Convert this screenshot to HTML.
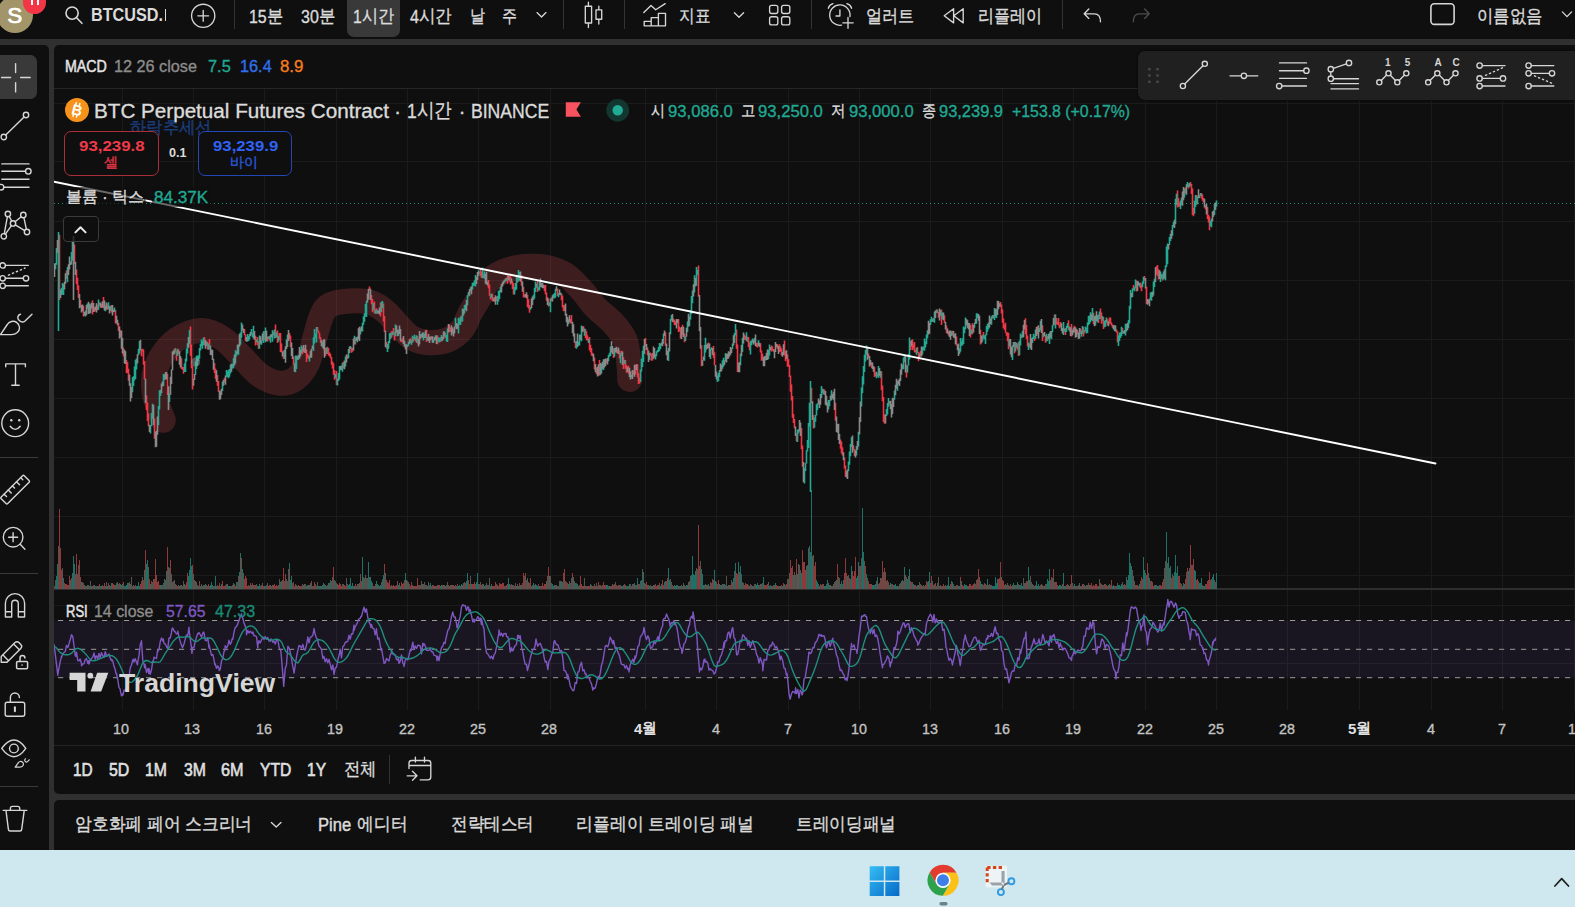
<!DOCTYPE html>
<html lang="ko"><head><meta charset="utf-8"><title>BTCUSD.P chart</title>
<style>
*{box-sizing:border-box}
html,body{margin:0;padding:0;width:1575px;height:907px;overflow:hidden}
body{width:1575px;height:907px;overflow:hidden;position:relative;background:#303030;font-family:"Liberation Sans",sans-serif;color:#dbdbdb}
.app{position:absolute;left:0;top:0;width:1575px;height:907px;overflow:hidden;background:#303030}
.p{position:absolute;background:#0f0f0f}
.t{position:absolute;white-space:nowrap;line-height:1;transform-origin:0 50%;z-index:2;-webkit-text-stroke:.35px}
.b{-webkit-text-stroke:0}
.i{position:absolute;overflow:visible;z-index:2}
.chart{position:absolute;left:54px;top:45px;z-index:1}
.sep{position:absolute;background:#333;z-index:2}
</style></head>
<body>
<div class="app">
<div class="p" style="left:0;top:0;width:1575px;height:38.8px"></div><div class="p" style="left:0;top:45px;width:48.5px;height:805px;border-top-right-radius:5px"></div><div class="p" style="left:54px;top:45px;width:1521px;height:749px;border-radius:5px 0 0 5px"></div><div class="p" style="left:54px;top:800px;width:1521px;height:50px;border-top-left-radius:5px"></div><div style="position:absolute;left:0;top:849.5px;width:1575px;height:57.5px;background:#cfe7ee"></div><div class="sep" style="left:54px;top:744.5px;width:1521px;height:1px;background:#242424"></div><div style="position:absolute;left:346.5px;top:-6px;width:53.5px;height:42.5px;border-radius:7px;background:#393939;z-index:1"></div><div class="sep" style="left:234.0px;top:0;width:1px;height:28.5px"></div><div class="sep" style="left:562.5px;top:0;width:1px;height:28.5px"></div><div class="sep" style="left:623.5px;top:0;width:1px;height:28.5px"></div><div class="sep" style="left:811.0px;top:0;width:1px;height:28.5px"></div><div class="sep" style="left:1062.0px;top:0;width:1px;height:28.5px"></div><div class="sep" style="left:165px;top:8.5px;width:1.3px;height:12.5px;background:#dbdbdb"></div><div style="position:absolute;left:-6px;top:55.2px;width:43px;height:43.5px;border-radius:6.5px;background:#393939;z-index:1"></div><div class="sep" style="left:0;top:456.5px;width:37.5px;height:1px;background:#3a3a3a"></div><div class="sep" style="left:0;top:572.8px;width:37.5px;height:1px;background:#3a3a3a"></div><div class="sep" style="left:0;top:786.2px;width:37.5px;height:1px;background:#3a3a3a"></div><div class="sep" style="left:389.3px;top:755px;width:1px;height:28.5px"></div><div style="position:absolute;left:1138px;top:51px;width:437px;height:49px;border-radius:7px 0 0 7px;background:#202020;z-index:2;box-shadow:0 0 3px rgba(0,0,0,.6)"></div><div style="position:absolute;left:63.6px;top:131px;width:95.2px;height:44.7px;border:1.2px solid #ab2f3a;border-radius:7px;background:#0f0f0f;z-index:2"></div><div style="position:absolute;left:197.9px;top:131px;width:94.2px;height:44.7px;border:1.2px solid #2348b4;border-radius:7px;background:#0f0f0f;z-index:2"></div><div style="position:absolute;left:62.6px;top:216px;width:36.2px;height:26.4px;border:1px solid #3a3a3a;border-radius:4px;background:rgba(15,15,15,.75);z-index:2"></div><div style="position:absolute;left:-3.5px;top:-4px;width:36.5px;height:36.5px;border-radius:50%;background:#a3956a;z-index:1"></div><div style="position:absolute;left:22.9px;top:-9.6px;width:23.6px;height:23.6px;border-radius:50%;background:#f23645;z-index:3"></div><div style="position:absolute;left:31.2px;top:-3px;width:1.8px;height:8.3px;background:#fff;z-index:4"></div><div style="position:absolute;left:37.4px;top:-3px;width:1.8px;height:8.3px;background:#fff;z-index:4"></div>
<svg class="chart" width="1521" height="665" viewBox="54 45 1521 665"><path d="M122.5 89V588M122.5 590V710M193.5 89V588M193.5 590V710M264.5 89V588M264.5 590V710M336.5 89V588M336.5 590V710M407.5 89V588M407.5 590V710M478.5 89V588M478.5 590V710M550.5 89V588M550.5 590V710M645.5 89V588M645.5 590V710M716.5 89V588M716.5 590V710M788.5 89V588M788.5 590V710M859.5 89V588M859.5 590V710M930.5 89V588M930.5 590V710M1002.5 89V588M1002.5 590V710M1073.5 89V588M1073.5 590V710M1145.5 89V588M1145.5 590V710M1216.5 89V588M1216.5 590V710M1287.5 89V588M1287.5 590V710M1359.5 89V588M1359.5 590V710M1431.5 89V588M1431.5 590V710M1502.5 89V588M1502.5 590V710M1574.5 89V588M1574.5 590V710M54 103.5H1575M54 161.5H1575M54 221.5H1575M54 280.5H1575M54 339.5H1575M54 398.5H1575M54 457.5H1575M54 516.5H1575M54 575.5H1575M54 605.5H1575M54 663.5H1575" stroke="#1b1b1b" stroke-width="1" fill="none" shape-rendering="crispEdges"/><rect x="54" y="88" width="1521" height="1" fill="#262626"/><rect x="54" y="588" width="1521" height="2" fill="#2e2e2e"/><rect x="54" y="620.5" width="1521" height="57.2" fill="#7e57c2" fill-opacity="0.1"/><path d="M163.3 420.3C161.8 415.7 155.3 401.6 154.1 392.9C152.9 384.2 153.2 376.1 155.9 368.2C158.6 360.3 164.4 351.2 170.0 345.3C175.6 339.4 183.2 335.2 189.4 332.9C195.6 330.5 201.1 330.0 207.0 331.2C212.9 332.4 218.8 335.6 224.7 340.0C230.6 344.4 236.4 351.7 242.3 357.6C248.2 363.5 253.8 371.0 260.0 375.3C266.2 379.6 273.5 382.6 279.4 383.2C285.3 383.8 290.6 382.2 295.3 378.8C300.0 375.4 304.4 369.7 307.6 362.9C310.8 356.1 312.4 346.1 314.7 338.2C317.0 330.3 319.1 320.8 321.7 315.3C324.2 309.8 325.3 307.4 330.0 305.0C334.7 302.6 343.2 301.4 349.8 301.0C356.4 300.6 363.7 300.5 369.7 302.3C375.7 304.1 380.8 307.7 385.6 311.6C390.5 315.6 394.4 321.6 398.8 326.0C403.2 330.4 406.9 335.2 412.0 338.0C417.1 340.8 423.0 342.5 429.2 342.7C435.4 342.9 443.5 341.7 449.0 339.4C454.5 337.1 458.8 333.2 462.3 328.8C465.8 324.4 467.6 317.8 470.2 313.0C472.8 308.2 474.8 305.4 478.0 300.0C481.2 294.6 484.0 285.8 489.4 280.6C494.8 275.4 502.4 271.4 510.6 269.0C518.8 266.6 530.0 265.8 538.8 266.5C547.6 267.2 556.5 269.7 563.5 273.5C570.5 277.3 575.7 283.8 581.0 289.4C586.3 295.0 590.0 301.4 595.3 307.0C600.6 312.6 607.9 317.3 612.9 322.9C617.9 328.5 622.6 333.8 625.3 340.6C627.9 347.4 628.1 357.0 628.8 363.5C629.5 370.0 629.6 376.8 629.7 379.4" stroke="#e8505a" stroke-opacity="0.22" stroke-width="25" fill="none" stroke-linecap="round" stroke-linejoin="round"/><path d="M54 203.5H1575" stroke="#1f9683" stroke-width="1" stroke-dasharray="1 3" fill="none" shape-rendering="crispEdges"/><g shape-rendering="crispEdges"><path d="M59.5 508.6V588.5M60.5 548.0V588.5M61.5 570.3V588.5M64.5 582.8V588.5M66.5 584.1V588.5M67.5 585.2V588.5M69.5 575.8V588.5M71.5 578.1V588.5M75.5 573.6V588.5M76.5 554.0V588.5M79.5 560.0V588.5M80.5 577.2V588.5M83.5 582.6V588.5M85.5 586.0V588.5M86.5 585.7V588.5M93.5 585.2V588.5M96.5 586.2V588.5M99.5 583.9V588.5M103.5 585.7V588.5M104.5 582.7V588.5M108.5 583.2V588.5M112.5 583.3V588.5M113.5 583.8V588.5M115.5 584.8V588.5M119.5 583.3V588.5M123.5 581.7V588.5M128.5 583.1V588.5M132.5 585.8V588.5M135.5 584.9V588.5M140.5 584.2V588.5M141.5 581.0V588.5M143.5 579.5V588.5M145.5 550.0V588.5M149.5 578.6V588.5M151.5 580.5V588.5M154.5 578.7V588.5M155.5 558.8V588.5M156.5 575.0V588.5M157.5 582.1V588.5M158.5 580.5V588.5M167.5 546.8V588.5M169.5 568.3V588.5M170.5 560.0V588.5M177.5 586.0V588.5M185.5 585.0V588.5M186.5 581.9V588.5M187.5 573.0V588.5M192.5 565.0V588.5M194.5 580.2V588.5M199.5 580.9V588.5M207.5 586.1V588.5M208.5 584.1V588.5M213.5 586.0V588.5M218.5 586.3V588.5M219.5 582.5V588.5M220.5 585.8V588.5M222.5 581.2V588.5M223.5 585.6V588.5M225.5 584.7V588.5M226.5 583.6V588.5M235.5 585.6V588.5M238.5 576.4V588.5M241.5 558.0V588.5M244.5 578.8V588.5M245.5 576.1V588.5M246.5 578.3V588.5M247.5 585.9V588.5M249.5 586.0V588.5M250.5 583.3V588.5M252.5 582.9V588.5M254.5 585.2V588.5M260.5 586.2V588.5M263.5 586.3V588.5M268.5 585.7V588.5M269.5 585.0V588.5M271.5 586.3V588.5M272.5 585.1V588.5M274.5 584.4V588.5M275.5 585.6V588.5M276.5 584.7V588.5M283.5 568.0V588.5M285.5 574.2V588.5M288.5 568.8V588.5M293.5 582.0V588.5M295.5 583.6V588.5M298.5 584.6V588.5M300.5 585.5V588.5M302.5 583.9V588.5M305.5 583.7V588.5M309.5 584.5V588.5M311.5 581.3V588.5M313.5 586.0V588.5M314.5 582.3V588.5M333.5 566.8V588.5M336.5 582.5V588.5M338.5 585.3V588.5M339.5 583.0V588.5M340.5 583.5V588.5M341.5 585.9V588.5M344.5 584.9V588.5M345.5 585.8V588.5M355.5 583.5V588.5M357.5 584.1V588.5M358.5 584.3V588.5M361.5 580.9V588.5M374.5 585.7V588.5M384.5 564.0V588.5M386.5 580.4V588.5M388.5 583.2V588.5M389.5 579.6V588.5M391.5 585.3V588.5M393.5 584.8V588.5M394.5 586.3V588.5M395.5 586.1V588.5M397.5 580.9V588.5M401.5 582.4V588.5M402.5 583.5V588.5M403.5 582.6V588.5M404.5 579.8V588.5M407.5 580.7V588.5M410.5 585.7V588.5M411.5 582.4V588.5M412.5 585.4V588.5M414.5 585.6V588.5M415.5 585.7V588.5M417.5 577.9V588.5M418.5 585.4V588.5M423.5 584.1V588.5M427.5 585.5V588.5M433.5 584.8V588.5M435.5 585.8V588.5M437.5 585.1V588.5M438.5 584.7V588.5M439.5 585.0V588.5M442.5 585.3V588.5M445.5 586.2V588.5M448.5 585.3V588.5M451.5 585.4V588.5M453.5 585.4V588.5M454.5 586.1V588.5M457.5 584.3V588.5M460.5 586.0V588.5M462.5 585.2V588.5M465.5 583.1V588.5M468.5 580.0V588.5M469.5 583.7V588.5M472.5 584.2V588.5M473.5 583.7V588.5M474.5 581.6V588.5M479.5 583.6V588.5M481.5 585.0V588.5M483.5 583.8V588.5M492.5 586.0V588.5M493.5 585.9V588.5M495.5 581.8V588.5M497.5 585.4V588.5M499.5 583.4V588.5M500.5 584.3V588.5M501.5 584.2V588.5M502.5 582.6V588.5M503.5 583.1V588.5M507.5 584.0V588.5M510.5 585.2V588.5M512.5 585.0V588.5M514.5 585.6V588.5M519.5 582.8V588.5M521.5 584.5V588.5M523.5 572.8V588.5M525.5 573.0V588.5M526.5 580.1V588.5M529.5 582.9V588.5M530.5 577.6V588.5M534.5 585.4V588.5M538.5 584.3V588.5M542.5 583.3V588.5M543.5 586.2V588.5M544.5 584.3V588.5M545.5 584.4V588.5M547.5 575.7V588.5M548.5 567.4V588.5M555.5 584.6V588.5M557.5 586.1V588.5M563.5 573.0V588.5M564.5 569.4V588.5M567.5 582.8V588.5M572.5 573.0V588.5M580.5 576.3V588.5M581.5 583.7V588.5M582.5 586.1V588.5M585.5 585.7V588.5M586.5 586.0V588.5M588.5 585.9V588.5M589.5 586.2V588.5M591.5 585.2V588.5M593.5 586.2V588.5M595.5 585.6V588.5M598.5 581.6V588.5M603.5 581.8V588.5M604.5 585.3V588.5M605.5 584.9V588.5M610.5 585.6V588.5M613.5 585.2V588.5M614.5 584.3V588.5M617.5 586.2V588.5M618.5 585.0V588.5M625.5 585.3V588.5M635.5 585.2V588.5M639.5 584.0V588.5M646.5 581.5V588.5M647.5 585.4V588.5M650.5 585.4V588.5M652.5 586.3V588.5M654.5 585.0V588.5M656.5 586.2V588.5M657.5 584.5V588.5M659.5 582.7V588.5M662.5 580.3V588.5M663.5 585.3V588.5M667.5 578.4V588.5M673.5 586.3V588.5M679.5 586.0V588.5M685.5 586.2V588.5M689.5 581.2V588.5M698.5 525.0V588.5M699.5 566.0V588.5M704.5 584.6V588.5M707.5 585.2V588.5M710.5 581.9V588.5M712.5 579.4V588.5M716.5 582.4V588.5M718.5 579.6V588.5M728.5 584.5V588.5M730.5 585.4V588.5M732.5 582.3V588.5M736.5 573.3V588.5M737.5 574.2V588.5M744.5 585.0V588.5M746.5 584.4V588.5M747.5 583.7V588.5M753.5 585.6V588.5M761.5 584.0V588.5M764.5 585.1V588.5M765.5 584.6V588.5M767.5 584.0V588.5M772.5 586.0V588.5M776.5 584.9V588.5M777.5 585.9V588.5M779.5 585.5V588.5M781.5 585.4V588.5M783.5 582.5V588.5M786.5 583.9V588.5M790.5 560.0V588.5M791.5 568.3V588.5M792.5 566.0V588.5M796.5 558.8V588.5M799.5 564.9V588.5M802.5 550.0V588.5M803.5 562.0V588.5M804.5 562.0V588.5M805.5 570.4V588.5M813.5 555.1V588.5M814.5 566.0V588.5M815.5 562.0V588.5M821.5 585.3V588.5M822.5 584.3V588.5M831.5 585.5V588.5M837.5 564.0V588.5M844.5 573.1V588.5M845.5 558.0V588.5M846.5 573.4V588.5M849.5 578.1V588.5M852.5 570.5V588.5M853.5 576.3V588.5M854.5 571.2V588.5M855.5 557.0V588.5M859.5 566.0V588.5M865.5 566.0V588.5M868.5 580.9V588.5M870.5 583.5V588.5M871.5 583.5V588.5M879.5 583.4V588.5M880.5 578.4V588.5M882.5 561.0V588.5M884.5 568.0V588.5M887.5 580.3V588.5M892.5 584.3V588.5M900.5 583.3V588.5M903.5 580.5V588.5M905.5 575.1V588.5M911.5 582.3V588.5M914.5 584.8V588.5M921.5 585.0V588.5M924.5 586.3V588.5M927.5 582.3V588.5M930.5 582.7V588.5M931.5 576.3V588.5M934.5 583.9V588.5M943.5 583.9V588.5M944.5 585.5V588.5M950.5 584.2V588.5M954.5 586.1V588.5M957.5 585.3V588.5M960.5 576.7V588.5M962.5 584.8V588.5M963.5 586.3V588.5M969.5 583.9V588.5M970.5 583.9V588.5M972.5 585.3V588.5M973.5 584.3V588.5M977.5 579.0V588.5M978.5 568.9V588.5M984.5 583.4V588.5M986.5 584.8V588.5M991.5 585.1V588.5M998.5 579.0V588.5M999.5 577.5V588.5M1000.5 561.7V588.5M1002.5 580.3V588.5M1003.5 581.2V588.5M1005.5 584.1V588.5M1009.5 586.2V588.5M1011.5 585.5V588.5M1015.5 584.7V588.5M1024.5 583.2V588.5M1026.5 580.5V588.5M1040.5 585.4V588.5M1043.5 585.5V588.5M1045.5 584.4V588.5M1051.5 577.2V588.5M1053.5 569.0V588.5M1055.5 582.0V588.5M1056.5 582.3V588.5M1062.5 584.4V588.5M1067.5 584.4V588.5M1069.5 586.0V588.5M1071.5 575.0V588.5M1075.5 585.6V588.5M1078.5 585.4V588.5M1080.5 586.2V588.5M1082.5 583.5V588.5M1085.5 586.3V588.5M1086.5 585.2V588.5M1088.5 583.2V588.5M1091.5 582.8V588.5M1093.5 584.9V588.5M1094.5 585.9V588.5M1095.5 583.6V588.5M1096.5 584.1V588.5M1097.5 585.6V588.5M1100.5 583.3V588.5M1104.5 584.0V588.5M1107.5 585.7V588.5M1110.5 584.5V588.5M1111.5 580.3V588.5M1115.5 585.7V588.5M1124.5 583.7V588.5M1136.5 585.1V588.5M1137.5 585.0V588.5M1141.5 576.7V588.5M1142.5 578.6V588.5M1147.5 563.0V588.5M1151.5 581.2V588.5M1152.5 582.2V588.5M1153.5 586.2V588.5M1160.5 585.3V588.5M1161.5 585.7V588.5M1162.5 581.7V588.5M1171.5 577.6V588.5M1173.5 576.3V588.5M1178.5 575.9V588.5M1179.5 575.8V588.5M1180.5 582.7V588.5M1185.5 578.8V588.5M1187.5 568.0V588.5M1190.5 545.0V588.5M1192.5 564.5V588.5M1193.5 558.8V588.5M1196.5 580.2V588.5M1197.5 578.5V588.5M1202.5 584.7V588.5M1206.5 583.5V588.5M1207.5 581.3V588.5M1208.5 580.3V588.5M1209.5 571.7V588.5M1211.5 578.8V588.5" stroke="#8e3a3b" stroke-width="1.1" fill="none"/><path d="M56.5 575.7V588.5M57.5 563.8V588.5M63.5 577.9V588.5M70.5 579.6V588.5M72.5 573.0V588.5M73.5 556.0V588.5M74.5 564.1V588.5M81.5 581.9V588.5M84.5 585.4V588.5M87.5 584.7V588.5M91.5 586.0V588.5M94.5 584.7V588.5M97.5 586.1V588.5M98.5 585.9V588.5M101.5 585.5V588.5M107.5 586.1V588.5M111.5 583.2V588.5M114.5 584.8V588.5M116.5 583.1V588.5M120.5 584.3V588.5M122.5 584.3V588.5M125.5 586.3V588.5M126.5 584.6V588.5M127.5 583.3V588.5M129.5 582.4V588.5M133.5 584.6V588.5M136.5 585.7V588.5M137.5 586.0V588.5M138.5 581.9V588.5M139.5 585.5V588.5M144.5 569.6V588.5M146.5 563.5V588.5M147.5 560.0V588.5M150.5 583.7V588.5M160.5 584.9V588.5M164.5 579.4V588.5M166.5 570.8V588.5M168.5 567.0V588.5M171.5 573.9V588.5M184.5 584.2V588.5M188.5 575.7V588.5M189.5 569.5V588.5M190.5 558.0V588.5M191.5 566.2V588.5M193.5 574.0V588.5M195.5 581.4V588.5M198.5 586.0V588.5M205.5 583.6V588.5M210.5 585.1V588.5M211.5 581.6V588.5M212.5 585.3V588.5M215.5 576.1V588.5M221.5 584.4V588.5M227.5 583.9V588.5M228.5 586.2V588.5M229.5 585.7V588.5M236.5 581.5V588.5M239.5 572.0V588.5M240.5 552.5V588.5M242.5 569.0V588.5M251.5 585.2V588.5M258.5 585.6V588.5M259.5 584.2V588.5M264.5 586.2V588.5M270.5 585.0V588.5M281.5 581.0V588.5M289.5 563.0V588.5M290.5 579.9V588.5M291.5 575.8V588.5M303.5 584.9V588.5M304.5 583.5V588.5M307.5 584.9V588.5M308.5 585.4V588.5M310.5 582.8V588.5M316.5 585.5V588.5M319.5 585.5V588.5M320.5 586.2V588.5M323.5 582.9V588.5M325.5 585.4V588.5M328.5 582.8V588.5M330.5 579.7V588.5M334.5 579.7V588.5M337.5 583.9V588.5M348.5 584.8V588.5M349.5 583.7V588.5M350.5 578.3V588.5M351.5 586.0V588.5M352.5 582.9V588.5M354.5 585.6V588.5M356.5 585.6V588.5M359.5 583.4V588.5M362.5 557.4V588.5M368.5 562.0V588.5M370.5 577.1V588.5M371.5 581.1V588.5M376.5 580.9V588.5M378.5 585.3V588.5M380.5 584.9V588.5M383.5 575.0V588.5M385.5 573.1V588.5M390.5 585.5V588.5M399.5 582.7V588.5M400.5 585.7V588.5M405.5 573.0V588.5M406.5 580.3V588.5M413.5 586.2V588.5M422.5 584.4V588.5M426.5 585.2V588.5M430.5 583.1V588.5M436.5 585.7V588.5M440.5 586.1V588.5M441.5 585.2V588.5M444.5 584.8V588.5M450.5 585.3V588.5M456.5 585.8V588.5M458.5 585.9V588.5M459.5 585.2V588.5M461.5 583.9V588.5M463.5 582.6V588.5M466.5 581.1V588.5M467.5 573.0V588.5M471.5 583.5V588.5M476.5 582.3V588.5M477.5 573.0V588.5M478.5 584.2V588.5M482.5 584.4V588.5M484.5 585.8V588.5M491.5 584.2V588.5M508.5 578.1V588.5M509.5 583.6V588.5M513.5 584.7V588.5M516.5 585.6V588.5M518.5 585.9V588.5M520.5 585.1V588.5M527.5 578.0V588.5M531.5 585.5V588.5M533.5 583.1V588.5M535.5 584.4V588.5M536.5 585.3V588.5M537.5 586.1V588.5M539.5 586.1V588.5M546.5 580.6V588.5M549.5 576.3V588.5M552.5 583.9V588.5M553.5 585.8V588.5M554.5 585.3V588.5M556.5 585.3V588.5M560.5 581.2V588.5M562.5 581.9V588.5M568.5 583.8V588.5M573.5 576.9V588.5M575.5 583.4V588.5M577.5 584.4V588.5M587.5 585.7V588.5M590.5 583.7V588.5M606.5 584.6V588.5M607.5 584.6V588.5M609.5 586.2V588.5M623.5 585.1V588.5M627.5 585.5V588.5M629.5 583.9V588.5M634.5 582.9V588.5M637.5 578.3V588.5M641.5 579.8V588.5M643.5 571.7V588.5M648.5 585.3V588.5M651.5 585.7V588.5M653.5 585.1V588.5M658.5 584.8V588.5M660.5 586.3V588.5M665.5 580.8V588.5M668.5 568.0V588.5M669.5 579.7V588.5M674.5 585.4V588.5M675.5 585.5V588.5M676.5 585.2V588.5M678.5 586.0V588.5M680.5 586.1V588.5M684.5 584.6V588.5M687.5 585.3V588.5M688.5 581.8V588.5M691.5 575.3V588.5M692.5 556.0V588.5M693.5 573.5V588.5M694.5 575.3V588.5M695.5 570.6V588.5M701.5 569.4V588.5M702.5 573.7V588.5M703.5 584.7V588.5M705.5 584.2V588.5M706.5 584.7V588.5M708.5 584.0V588.5M714.5 570.0V588.5M715.5 580.7V588.5M719.5 583.8V588.5M721.5 584.8V588.5M724.5 583.5V588.5M729.5 584.7V588.5M733.5 578.4V588.5M735.5 563.0V588.5M738.5 561.7V588.5M740.5 566.0V588.5M752.5 585.6V588.5M756.5 584.6V588.5M757.5 582.8V588.5M760.5 584.1V588.5M763.5 576.6V588.5M769.5 585.7V588.5M771.5 585.9V588.5M775.5 583.3V588.5M778.5 586.3V588.5M780.5 586.1V588.5M782.5 586.0V588.5M793.5 574.9V588.5M797.5 574.3V588.5M798.5 564.0V588.5M801.5 572.5V588.5M806.5 566.0V588.5M808.5 548.2V588.5M810.5 552.0V588.5M811.5 490.0V588.5M812.5 556.0V588.5M816.5 579.5V588.5M817.5 582.0V588.5M824.5 585.6V588.5M825.5 585.5V588.5M827.5 579.9V588.5M829.5 585.3V588.5M830.5 584.7V588.5M836.5 580.1V588.5M840.5 583.5V588.5M843.5 580.0V588.5M847.5 575.8V588.5M851.5 566.0V588.5M856.5 577.6V588.5M857.5 576.4V588.5M858.5 562.0V588.5M862.5 507.8V588.5M863.5 552.0V588.5M866.5 573.5V588.5M872.5 585.2V588.5M873.5 585.1V588.5M875.5 583.6V588.5M877.5 577.4V588.5M890.5 582.5V588.5M894.5 584.7V588.5M895.5 583.6V588.5M897.5 586.0V588.5M901.5 580.9V588.5M902.5 580.2V588.5M904.5 566.8V588.5M907.5 579.2V588.5M909.5 569.0V588.5M913.5 584.1V588.5M918.5 584.7V588.5M928.5 580.8V588.5M929.5 571.7V588.5M947.5 584.9V588.5M948.5 577.4V588.5M949.5 585.6V588.5M952.5 581.6V588.5M955.5 586.3V588.5M959.5 586.0V588.5M961.5 581.4V588.5M964.5 584.4V588.5M965.5 584.8V588.5M967.5 585.9V588.5M980.5 581.3V588.5M987.5 579.2V588.5M990.5 584.7V588.5M992.5 585.7V588.5M993.5 585.9V588.5M994.5 585.6V588.5M995.5 577.0V588.5M996.5 582.7V588.5M997.5 579.2V588.5M1004.5 584.8V588.5M1013.5 582.6V588.5M1014.5 584.7V588.5M1017.5 582.0V588.5M1020.5 585.4V588.5M1021.5 582.8V588.5M1022.5 585.8V588.5M1025.5 583.0V588.5M1028.5 566.8V588.5M1036.5 581.0V588.5M1037.5 585.9V588.5M1038.5 583.8V588.5M1042.5 585.4V588.5M1044.5 585.9V588.5M1047.5 579.1V588.5M1048.5 580.6V588.5M1049.5 568.9V588.5M1052.5 578.2V588.5M1058.5 586.2V588.5M1059.5 584.6V588.5M1060.5 584.8V588.5M1063.5 573.4V588.5M1064.5 586.3V588.5M1068.5 584.8V588.5M1074.5 584.2V588.5M1079.5 582.8V588.5M1081.5 586.3V588.5M1084.5 584.6V588.5M1087.5 584.5V588.5M1089.5 585.1V588.5M1098.5 585.8V588.5M1109.5 584.2V588.5M1112.5 586.0V588.5M1113.5 585.1V588.5M1116.5 585.6V588.5M1118.5 584.5V588.5M1119.5 584.5V588.5M1120.5 585.8V588.5M1121.5 584.4V588.5M1123.5 584.8V588.5M1127.5 579.5V588.5M1128.5 574.5V588.5M1129.5 553.0V588.5M1130.5 563.0V588.5M1131.5 566.0V588.5M1139.5 583.9V588.5M1143.5 557.4V588.5M1144.5 570.4V588.5M1145.5 572.8V588.5M1149.5 578.1V588.5M1155.5 584.6V588.5M1157.5 585.9V588.5M1158.5 585.7V588.5M1166.5 532.0V588.5M1168.5 556.5V588.5M1170.5 566.0V588.5M1174.5 571.9V588.5M1175.5 554.5V588.5M1176.5 572.6V588.5M1177.5 566.0V588.5M1183.5 582.7V588.5M1184.5 583.7V588.5M1188.5 571.3V588.5M1194.5 569.7V588.5M1195.5 571.0V588.5M1199.5 583.1V588.5M1200.5 582.5V588.5M1201.5 577.8V588.5M1203.5 585.5V588.5M1204.5 585.9V588.5M1210.5 580.4V588.5M1212.5 576.9V588.5M1213.5 574.0V588.5M1216.5 573.0V588.5" stroke="#1f7066" stroke-width="1.1" fill="none"/><path d="M54.5 585.8V588.5M55.5 579.9V588.5M58.5 546.1V588.5M62.5 568.1V588.5M65.5 583.9V588.5M68.5 584.8V588.5M77.5 573.5V588.5M78.5 565.1V588.5M82.5 581.6V588.5M88.5 585.0V588.5M89.5 586.0V588.5M90.5 581.2V588.5M92.5 586.0V588.5M95.5 585.5V588.5M100.5 585.9V588.5M102.5 585.4V588.5M105.5 586.2V588.5M106.5 581.7V588.5M109.5 584.5V588.5M110.5 585.8V588.5M117.5 582.4V588.5M118.5 583.5V588.5M121.5 584.8V588.5M124.5 585.5V588.5M130.5 584.2V588.5M131.5 577.3V588.5M134.5 585.7V588.5M142.5 576.8V588.5M148.5 567.3V588.5M152.5 581.5V588.5M153.5 579.2V588.5M159.5 584.9V588.5M161.5 584.6V588.5M162.5 584.6V588.5M163.5 582.8V588.5M165.5 579.8V588.5M172.5 582.1V588.5M173.5 581.1V588.5M174.5 580.4V588.5M175.5 584.4V588.5M176.5 585.2V588.5M178.5 584.9V588.5M179.5 585.9V588.5M180.5 584.6V588.5M181.5 584.8V588.5M182.5 586.2V588.5M183.5 580.6V588.5M196.5 582.2V588.5M197.5 585.0V588.5M200.5 586.0V588.5M201.5 583.5V588.5M202.5 586.2V588.5M203.5 584.6V588.5M204.5 584.9V588.5M206.5 585.3V588.5M209.5 586.1V588.5M214.5 585.8V588.5M216.5 585.9V588.5M217.5 585.3V588.5M224.5 586.3V588.5M230.5 586.2V588.5M231.5 585.7V588.5M232.5 585.3V588.5M233.5 583.2V588.5M234.5 584.4V588.5M237.5 582.4V588.5M243.5 573.2V588.5M248.5 584.8V588.5M253.5 585.4V588.5M255.5 585.2V588.5M256.5 583.7V588.5M257.5 585.9V588.5M261.5 584.8V588.5M262.5 583.3V588.5M265.5 585.8V588.5M266.5 585.3V588.5M267.5 583.2V588.5M273.5 584.7V588.5M277.5 585.6V588.5M278.5 585.3V588.5M279.5 579.1V588.5M280.5 581.7V588.5M282.5 579.5V588.5M284.5 581.1V588.5M286.5 578.8V588.5M287.5 580.6V588.5M292.5 583.3V588.5M294.5 585.9V588.5M296.5 585.1V588.5M297.5 585.7V588.5M299.5 585.7V588.5M301.5 585.8V588.5M306.5 585.8V588.5M312.5 585.8V588.5M315.5 584.0V588.5M317.5 581.5V588.5M318.5 585.6V588.5M321.5 586.0V588.5M322.5 585.3V588.5M324.5 583.6V588.5M326.5 585.9V588.5M327.5 584.6V588.5M329.5 583.3V588.5M331.5 580.6V588.5M332.5 577.3V588.5M335.5 581.3V588.5M342.5 584.3V588.5M343.5 584.3V588.5M346.5 577.9V588.5M347.5 584.3V588.5M353.5 585.5V588.5M360.5 574.2V588.5M363.5 576.7V588.5M364.5 577.7V588.5M365.5 575.0V588.5M366.5 577.5V588.5M367.5 578.0V588.5M369.5 577.0V588.5M372.5 582.6V588.5M373.5 586.3V588.5M375.5 583.8V588.5M377.5 584.1V588.5M379.5 586.2V588.5M381.5 581.9V588.5M382.5 579.0V588.5M387.5 581.9V588.5M392.5 585.5V588.5M396.5 584.9V588.5M398.5 585.0V588.5M408.5 581.7V588.5M409.5 584.3V588.5M416.5 585.8V588.5M419.5 585.2V588.5M420.5 585.1V588.5M421.5 580.9V588.5M424.5 581.6V588.5M425.5 584.5V588.5M428.5 582.4V588.5M429.5 585.3V588.5M431.5 585.9V588.5M432.5 585.1V588.5M434.5 585.7V588.5M443.5 585.2V588.5M446.5 585.1V588.5M447.5 582.3V588.5M449.5 585.7V588.5M452.5 584.8V588.5M455.5 585.1V588.5M464.5 581.8V588.5M470.5 575.5V588.5M475.5 583.5V588.5M480.5 581.9V588.5M485.5 584.8V588.5M486.5 583.0V588.5M487.5 585.4V588.5M488.5 584.7V588.5M489.5 577.8V588.5M490.5 585.7V588.5M494.5 585.8V588.5M496.5 583.8V588.5M498.5 585.6V588.5M504.5 585.7V588.5M505.5 586.2V588.5M506.5 585.2V588.5M511.5 583.8V588.5M515.5 583.2V588.5M517.5 583.9V588.5M522.5 582.5V588.5M524.5 575.8V588.5M528.5 582.1V588.5M532.5 584.8V588.5M540.5 585.5V588.5M541.5 585.8V588.5M550.5 576.0V588.5M551.5 582.7V588.5M558.5 585.6V588.5M559.5 580.6V588.5M561.5 581.2V588.5M565.5 580.5V588.5M566.5 582.0V588.5M569.5 581.0V588.5M570.5 582.5V588.5M571.5 577.6V588.5M574.5 581.2V588.5M576.5 582.5V588.5M578.5 586.3V588.5M579.5 584.8V588.5M583.5 585.9V588.5M584.5 578.4V588.5M592.5 585.9V588.5M594.5 584.4V588.5M596.5 583.2V588.5M597.5 586.2V588.5M599.5 584.9V588.5M600.5 585.2V588.5M601.5 586.2V588.5M602.5 585.2V588.5M608.5 585.8V588.5M611.5 586.1V588.5M612.5 584.3V588.5M615.5 582.3V588.5M616.5 584.8V588.5M619.5 584.9V588.5M620.5 585.3V588.5M621.5 585.9V588.5M622.5 586.3V588.5M624.5 584.2V588.5M626.5 585.8V588.5M628.5 585.9V588.5M630.5 584.3V588.5M631.5 586.1V588.5M632.5 584.3V588.5M633.5 584.1V588.5M636.5 585.2V588.5M638.5 584.4V588.5M640.5 581.0V588.5M642.5 569.4V588.5M644.5 582.7V588.5M645.5 583.7V588.5M649.5 586.0V588.5M655.5 584.2V588.5M661.5 584.2V588.5M664.5 582.0V588.5M666.5 580.5V588.5M670.5 579.1V588.5M671.5 582.4V588.5M672.5 584.7V588.5M677.5 584.6V588.5M681.5 584.7V588.5M682.5 586.2V588.5M683.5 582.6V588.5M686.5 585.3V588.5M690.5 575.8V588.5M696.5 567.8V588.5M697.5 568.5V588.5M700.5 560.9V588.5M709.5 585.8V588.5M711.5 582.7V588.5M713.5 580.0V588.5M717.5 584.0V588.5M720.5 584.8V588.5M722.5 584.3V588.5M723.5 584.4V588.5M725.5 585.1V588.5M726.5 576.2V588.5M727.5 585.9V588.5M731.5 580.4V588.5M734.5 570.7V588.5M739.5 572.3V588.5M741.5 574.0V588.5M742.5 582.4V588.5M743.5 583.1V588.5M745.5 582.5V588.5M748.5 584.9V588.5M749.5 586.3V588.5M750.5 584.2V588.5M751.5 584.7V588.5M754.5 584.1V588.5M755.5 584.4V588.5M758.5 584.8V588.5M759.5 584.5V588.5M762.5 583.4V588.5M766.5 584.6V588.5M768.5 582.2V588.5M770.5 584.6V588.5M773.5 584.8V588.5M774.5 584.6V588.5M784.5 584.1V588.5M785.5 585.3V588.5M787.5 579.0V588.5M788.5 578.9V588.5M789.5 573.4V588.5M794.5 572.3V588.5M795.5 574.5V588.5M800.5 570.1V588.5M807.5 565.3V588.5M809.5 545.5V588.5M818.5 584.1V588.5M819.5 585.7V588.5M820.5 584.2V588.5M823.5 583.6V588.5M826.5 583.8V588.5M828.5 582.8V588.5M832.5 585.7V588.5M833.5 584.4V588.5M834.5 582.3V588.5M835.5 580.9V588.5M838.5 576.8V588.5M839.5 577.6V588.5M841.5 581.3V588.5M842.5 584.4V588.5M848.5 575.1V588.5M850.5 578.8V588.5M860.5 565.5V588.5M861.5 558.0V588.5M864.5 561.4V588.5M867.5 577.5V588.5M869.5 584.2V588.5M874.5 584.9V588.5M876.5 580.9V588.5M878.5 583.7V588.5M881.5 578.3V588.5M883.5 571.7V588.5M885.5 571.7V588.5M886.5 581.1V588.5M888.5 581.9V588.5M889.5 584.8V588.5M891.5 584.3V588.5M893.5 585.1V588.5M896.5 585.5V588.5M898.5 586.2V588.5M899.5 583.9V588.5M906.5 577.3V588.5M908.5 576.4V588.5M910.5 581.1V588.5M912.5 582.3V588.5M915.5 584.6V588.5M916.5 585.9V588.5M917.5 585.1V588.5M919.5 582.1V588.5M920.5 584.0V588.5M922.5 585.7V588.5M923.5 584.9V588.5M925.5 584.5V588.5M926.5 581.0V588.5M932.5 580.7V588.5M933.5 585.3V588.5M935.5 582.5V588.5M936.5 586.0V588.5M937.5 582.8V588.5M938.5 576.5V588.5M939.5 585.9V588.5M940.5 585.2V588.5M941.5 586.2V588.5M942.5 586.1V588.5M945.5 585.2V588.5M946.5 585.6V588.5M951.5 581.0V588.5M953.5 583.7V588.5M956.5 585.2V588.5M958.5 585.8V588.5M966.5 584.9V588.5M968.5 585.9V588.5M971.5 585.9V588.5M974.5 582.7V588.5M975.5 584.3V588.5M976.5 580.4V588.5M979.5 577.4V588.5M981.5 584.3V588.5M982.5 583.5V588.5M983.5 584.9V588.5M985.5 583.9V588.5M988.5 585.0V588.5M989.5 583.9V588.5M1001.5 577.0V588.5M1006.5 584.6V588.5M1007.5 582.6V588.5M1008.5 584.7V588.5M1010.5 584.1V588.5M1012.5 585.0V588.5M1016.5 584.9V588.5M1018.5 584.1V588.5M1019.5 584.9V588.5M1023.5 577.6V588.5M1027.5 581.1V588.5M1029.5 580.1V588.5M1030.5 575.8V588.5M1031.5 582.1V588.5M1032.5 584.2V588.5M1033.5 585.2V588.5M1034.5 585.9V588.5M1035.5 584.6V588.5M1039.5 585.9V588.5M1041.5 584.0V588.5M1046.5 584.1V588.5M1050.5 579.9V588.5M1054.5 582.0V588.5M1057.5 584.5V588.5M1061.5 585.6V588.5M1065.5 585.8V588.5M1066.5 585.0V588.5M1070.5 583.6V588.5M1072.5 583.0V588.5M1073.5 585.5V588.5M1076.5 585.8V588.5M1077.5 585.7V588.5M1083.5 583.6V588.5M1090.5 585.1V588.5M1092.5 585.6V588.5M1099.5 578.5V588.5M1101.5 583.9V588.5M1102.5 585.0V588.5M1103.5 584.7V588.5M1105.5 583.6V588.5M1106.5 585.3V588.5M1108.5 585.2V588.5M1114.5 586.3V588.5M1117.5 582.5V588.5M1122.5 582.4V588.5M1125.5 584.7V588.5M1126.5 576.8V588.5M1132.5 570.3V588.5M1133.5 576.4V588.5M1134.5 581.4V588.5M1135.5 585.0V588.5M1138.5 586.0V588.5M1140.5 580.5V588.5M1146.5 575.3V588.5M1148.5 573.1V588.5M1150.5 581.3V588.5M1154.5 584.5V588.5M1156.5 584.5V588.5M1159.5 584.5V588.5M1163.5 578.5V588.5M1164.5 567.5V588.5M1165.5 561.2V588.5M1167.5 563.0V588.5M1169.5 567.6V588.5M1172.5 574.0V588.5M1181.5 583.5V588.5M1182.5 585.6V588.5M1186.5 571.9V588.5M1189.5 567.9V588.5M1191.5 564.8V588.5M1198.5 580.8V588.5M1205.5 584.2V588.5M1214.5 579.9V588.5M1215.5 581.5V588.5" stroke="#54534e" stroke-width="1.1" fill="none"/></g><g><path d="M59.5 234.7V300.0M66.5 270.4V279.0M74.5 244.4V264.0M76.5 269.4V284.1M77.5 277.8V289.9M78.5 285.2V298.0M80.5 300.1V307.6M83.5 305.7V316.4M92.5 300.6V314.4M94.5 307.4V312.1M97.5 304.9V310.3M99.5 302.4V305.6M101.5 304.1V308.0M103.5 297.1V308.2M107.5 304.6V309.7M111.5 305.0V312.6M115.5 310.0V323.4M118.5 322.9V331.0M120.5 330.1V337.3M123.5 347.7V356.3M126.5 359.9V372.9M127.5 362.1V373.3M128.5 368.7V380.8M141.5 349.2V356.3M142.5 348.7V351.6M143.5 349.4V364.7M144.5 360.9V379.5M146.5 395.3V410.1M147.5 402.5V420.9M148.5 413.6V426.3M154.5 418.4V438.8M167.5 373.8V395.0M175.5 348.0V352.6M176.5 350.6V360.7M178.5 349.3V353.9M181.5 358.3V369.0M182.5 367.0V369.8M183.5 367.1V373.8M190.5 326.6V355.8M191.5 344.5V368.3M192.5 365.5V389.4M204.5 337.3V345.6M207.5 341.8V349.5M209.5 338.9V349.2M214.5 363.0V373.0M215.5 368.4V378.7M217.5 375.0V385.8M218.5 381.1V391.8M224.5 378.1V382.5M244.5 329.1V335.2M245.5 334.6V341.0M255.5 335.7V345.6M257.5 337.1V344.9M258.5 341.0V348.7M264.5 331.0V340.3M267.5 336.5V341.4M269.5 336.0V340.6M273.5 332.0V335.5M275.5 324.6V338.1M277.5 330.6V343.1M279.5 333.1V339.9M280.5 333.1V352.1M281.5 343.6V352.4M283.5 350.8V359.0M289.5 333.1V339.3M290.5 335.6V347.3M293.5 356.2V364.6M302.5 347.5V354.2M304.5 347.9V352.9M306.5 349.5V361.9M307.5 353.5V358.0M308.5 355.3V359.0M317.5 327.1V331.6M318.5 330.6V333.2M319.5 332.7V338.8M320.5 336.9V343.0M325.5 347.9V356.1M327.5 346.7V354.0M328.5 347.9V355.6M329.5 352.5V356.5M330.5 353.7V358.2M331.5 357.1V364.8M332.5 361.6V368.6M333.5 363.3V374.8M334.5 370.0V379.7M336.5 370.9V385.0M343.5 361.7V368.6M347.5 354.7V358.8M351.5 347.2V352.8M352.5 347.9V351.8M355.5 337.4V344.4M369.5 286.4V290.2M371.5 295.0V304.3M372.5 299.0V312.3M374.5 301.6V313.6M376.5 308.3V314.1M380.5 302.6V316.4M383.5 303.5V321.4M384.5 315.9V332.1M386.5 341.9V348.6M391.5 331.3V337.7M393.5 328.0V334.8M394.5 331.9V340.4M401.5 339.3V342.3M402.5 338.1V342.4M410.5 338.2V343.2M413.5 337.1V341.4M415.5 337.2V341.2M417.5 336.1V343.5M426.5 329.8V342.0M431.5 336.2V339.3M437.5 335.6V344.3M440.5 337.1V342.0M445.5 332.7V338.0M449.5 324.4V332.0M450.5 327.3V332.1M461.5 315.5V321.9M479.5 271.4V274.0M480.5 268.2V276.3M481.5 271.7V278.1M483.5 273.5V277.9M488.5 279.9V288.3M489.5 284.5V295.8M490.5 294.6V299.4M492.5 294.2V301.6M494.5 297.1V302.0M496.5 296.6V301.2M505.5 278.0V281.9M507.5 275.5V283.7M509.5 276.5V281.5M510.5 274.4V284.4M512.5 281.3V288.9M513.5 282.9V294.5M517.5 276.8V282.7M521.5 274.9V285.7M523.5 286.7V297.6M524.5 294.3V297.2M527.5 294.8V307.1M528.5 299.3V308.6M529.5 305.0V312.7M537.5 281.0V291.9M544.5 285.2V291.2M545.5 284.8V294.3M546.5 292.6V300.7M548.5 298.8V306.4M551.5 297.6V301.2M557.5 288.4V296.0M561.5 293.3V300.2M562.5 295.6V307.6M563.5 304.9V311.3M564.5 305.3V311.0M570.5 319.1V323.6M571.5 314.9V323.6M575.5 341.4V348.1M583.5 326.1V331.6M585.5 329.0V338.1M586.5 331.3V340.3M587.5 335.3V340.8M589.5 337.1V350.3M590.5 344.8V352.2M591.5 347.9V355.5M592.5 352.8V356.5M594.5 357.4V369.5M596.5 367.7V373.9M599.5 360.1V375.4M606.5 358.9V362.7M613.5 348.3V357.9M617.5 348.9V353.7M619.5 350.6V358.4M621.5 350.8V355.7M623.5 357.2V369.1M625.5 360.1V368.8M626.5 365.1V372.8M628.5 365.8V373.8M633.5 371.2V374.6M635.5 364.8V374.6M637.5 364.2V377.5M638.5 373.2V384.0M639.5 377.5V383.6M645.5 338.0V346.6M647.5 347.6V355.2M650.5 352.5V355.8M651.5 353.9V360.8M652.5 352.9V360.4M665.5 332.3V346.1M673.5 318.8V322.5M674.5 319.8V325.3M675.5 321.6V325.0M678.5 319.0V331.9M679.5 326.4V331.2M680.5 328.0V338.4M682.5 324.7V334.8M684.5 333.6V342.3M698.5 265.6V296.8M701.5 345.3V366.2M708.5 342.6V348.3M713.5 345.9V357.8M714.5 352.3V365.3M736.5 329.5V348.8M737.5 344.5V372.0M744.5 334.5V339.4M745.5 335.9V340.0M747.5 336.8V341.9M748.5 336.9V347.0M749.5 342.3V350.2M756.5 343.0V347.0M757.5 342.7V347.5M760.5 343.3V352.5M761.5 350.5V360.8M762.5 353.8V360.8M771.5 345.5V351.5M772.5 346.5V350.7M773.5 349.0V351.8M777.5 344.3V348.9M779.5 344.3V352.0M780.5 346.3V351.7M781.5 348.4V355.6M784.5 340.4V355.5M785.5 351.0V361.3M787.5 354.6V366.8M788.5 359.2V366.8M789.5 365.0V376.9M790.5 375.5V391.7M791.5 384.5V400.5M792.5 395.9V417.8M793.5 414.0V423.0M794.5 419.1V428.2M796.5 433.4V441.4M801.5 428.1V449.3M802.5 445.6V466.7M811.5 387.8V403.6M813.5 415.1V428.5M822.5 388.4V393.1M824.5 389.6V394.9M835.5 402.7V420.7M840.5 439.6V448.7M841.5 441.6V453.6M842.5 447.3V455.5M844.5 457.5V468.5M845.5 465.4V476.8M853.5 445.2V450.3M854.5 449.0V456.0M868.5 353.5V357.7M871.5 362.0V367.7M874.5 366.9V376.9M875.5 372.0V376.2M877.5 373.5V376.4M881.5 371.3V390.2M882.5 385.6V401.3M883.5 397.0V422.0M884.5 414.4V423.8M889.5 401.0V404.8M906.5 364.7V377.4M910.5 340.7V350.1M912.5 339.2V350.3M913.5 343.7V348.8M914.5 341.9V352.5M915.5 349.8V352.4M917.5 347.1V352.9M918.5 352.0V361.2M920.5 351.1V356.6M933.5 318.0V321.9M937.5 309.5V313.2M938.5 312.0V317.8M941.5 309.6V325.0M944.5 315.3V323.0M946.5 325.6V333.1M948.5 331.3V335.4M952.5 330.8V335.6M956.5 336.4V345.5M970.5 325.1V337.4M972.5 323.2V334.3M980.5 329.7V344.4M983.5 331.9V338.4M993.5 315.1V318.6M1000.5 302.0V307.0M1001.5 304.6V313.5M1002.5 309.5V322.7M1003.5 318.4V328.3M1004.5 324.7V329.7M1005.5 322.7V332.8M1006.5 332.1V335.7M1007.5 332.5V341.3M1008.5 332.7V349.3M1014.5 341.8V353.3M1017.5 343.4V349.7M1018.5 342.3V356.1M1021.5 334.9V338.1M1025.5 318.3V334.3M1026.5 325.1V338.9M1027.5 335.5V346.5M1029.5 343.5V347.2M1034.5 335.9V341.1M1037.5 326.2V334.0M1042.5 325.2V340.9M1045.5 335.2V342.8M1047.5 336.0V340.9M1054.5 314.4V325.0M1056.5 317.9V324.2M1057.5 321.7V324.8M1058.5 318.1V325.6M1059.5 324.4V328.3M1060.5 322.0V327.2M1065.5 327.9V335.0M1068.5 320.2V330.1M1071.5 324.0V336.6M1074.5 325.7V332.3M1077.5 329.9V334.3M1080.5 328.6V333.9M1083.5 327.0V336.6M1084.5 329.9V333.2M1093.5 312.7V324.3M1098.5 314.5V322.9M1100.5 308.4V318.9M1101.5 312.6V323.7M1103.5 316.9V328.9M1107.5 319.3V325.5M1109.5 317.5V323.8M1110.5 317.5V323.8M1111.5 322.6V325.6M1112.5 324.6V327.8M1116.5 329.4V332.6M1117.5 331.3V342.6M1122.5 328.0V334.1M1133.5 285.1V290.1M1136.5 280.4V291.6M1140.5 282.8V288.3M1141.5 284.3V291.2M1144.5 276.0V280.8M1146.5 286.7V303.9M1156.5 266.2V274.6M1157.5 265.1V276.0M1158.5 269.3V279.5M1162.5 274.0V280.6M1177.5 190.4V207.6M1178.5 198.1V206.9M1179.5 202.4V206.5M1185.5 187.5V193.4M1188.5 183.6V188.4M1190.5 182.0V185.9M1191.5 183.9V193.9M1192.5 188.6V215.0M1193.5 208.1V216.3M1196.5 194.9V204.7M1201.5 193.0V198.5M1202.5 194.6V200.7M1203.5 198.1V202.4M1205.5 205.5V209.2M1207.5 207.1V219.0M1208.5 214.8V222.4M1209.5 216.5V230.3" stroke="#f23645" stroke-width="1.6" fill="none"/><path d="M55.5 262.9V269.3M56.5 247.9V264.7M58.5 232.0V331.0M61.5 287.9V295.1M62.5 282.9V294.6M63.5 283.9V295.0M67.5 266.9V282.3M71.5 252.1V264.5M72.5 241.7V260.4M85.5 310.7V316.5M87.5 303.6V308.7M89.5 303.6V313.7M98.5 299.5V309.8M105.5 306.1V311.3M108.5 302.2V308.9M110.5 305.8V311.1M114.5 307.5V312.1M132.5 377.2V392.2M133.5 376.3V385.9M134.5 366.5V380.5M135.5 359.7V379.0M136.5 358.5V369.5M138.5 348.7V355.2M139.5 341.0V353.4M150.5 425.3V433.5M151.5 413.0V426.2M152.5 403.7V418.7M158.5 405.9V425.3M159.5 390.3V409.4M160.5 390.1V396.1M163.5 374.1V386.0M164.5 374.2V379.9M169.5 393.8V401.9M174.5 348.7V354.0M177.5 348.7V355.9M184.5 363.5V371.9M185.5 358.5V371.9M186.5 348.5V361.6M187.5 343.2V353.6M189.5 329.9V343.8M195.5 361.4V375.0M196.5 355.7V369.1M197.5 355.5V365.7M198.5 355.2V361.0M199.5 347.9V358.7M200.5 343.8V350.4M201.5 339.6V346.3M202.5 340.9V348.7M203.5 337.4V345.1M206.5 341.5V346.0M208.5 343.4V349.7M222.5 381.4V390.9M226.5 369.9V376.8M227.5 371.5V377.2M228.5 369.9V378.3M229.5 369.0V376.7M230.5 364.6V373.5M232.5 363.8V368.6M233.5 358.3V368.4M235.5 350.3V363.6M236.5 351.3V356.2M238.5 344.2V354.7M240.5 332.5V344.8M241.5 322.4V337.8M247.5 333.9V341.4M248.5 336.0V341.1M249.5 333.9V339.6M251.5 328.9V334.6M252.5 333.3V337.3M253.5 325.7V338.4M256.5 339.4V342.5M259.5 335.4V348.7M261.5 340.0V344.7M263.5 331.3V343.1M265.5 327.5V342.2M268.5 336.4V339.1M270.5 334.5V342.8M272.5 330.2V341.8M274.5 329.5V338.6M276.5 332.6V337.6M278.5 335.7V341.8M284.5 349.5V358.7M287.5 334.4V347.0M295.5 355.6V372.2M296.5 355.6V368.9M298.5 354.9V359.7M301.5 345.4V353.4M309.5 355.6V361.4M313.5 337.3V350.9M314.5 329.1V343.4M315.5 333.8V338.1M316.5 326.9V342.5M322.5 341.8V347.4M326.5 347.4V353.9M335.5 374.1V378.0M337.5 378.4V385.5M338.5 373.1V380.9M339.5 366.1V379.6M341.5 365.4V370.2M342.5 362.7V371.8M345.5 356.5V366.6M348.5 349.0V358.2M350.5 346.1V349.0M354.5 335.7V344.5M357.5 336.5V342.2M360.5 328.3V334.4M362.5 322.8V331.4M363.5 316.2V324.8M364.5 313.3V321.8M365.5 303.9V316.5M366.5 300.8V316.9M373.5 303.0V310.0M375.5 309.8V313.7M377.5 309.8V313.6M381.5 301.7V312.2M382.5 301.1V308.3M387.5 344.1V352.1M388.5 341.0V348.7M389.5 333.2V343.2M390.5 333.1V338.9M392.5 331.6V335.2M395.5 324.4V336.3M398.5 329.7V335.7M407.5 344.4V347.0M408.5 341.8V345.9M411.5 339.8V344.8M412.5 335.8V342.4M414.5 334.7V339.4M416.5 335.2V342.8M421.5 333.7V336.8M423.5 332.5V340.5M424.5 333.4V338.0M427.5 337.0V340.7M433.5 339.5V343.1M435.5 335.5V340.3M438.5 337.4V341.8M439.5 337.4V342.4M441.5 335.1V341.3M444.5 331.3V336.8M446.5 334.9V341.6M447.5 328.4V342.0M455.5 317.7V327.2M458.5 317.7V333.4M459.5 318.7V324.6M460.5 316.5V325.0M462.5 308.6V321.4M464.5 305.1V313.4M465.5 304.5V310.1M467.5 295.3V305.3M468.5 292.1V296.5M470.5 287.3V291.5M472.5 282.7V289.5M473.5 282.4V286.1M474.5 280.3V285.5M475.5 275.0V286.6M478.5 270.2V276.0M482.5 267.6V278.2M484.5 271.6V278.7M491.5 293.5V297.9M497.5 295.9V304.7M498.5 291.0V301.5M499.5 289.8V299.0M500.5 286.7V292.6M504.5 279.4V282.4M506.5 277.7V281.0M514.5 287.0V294.4M515.5 283.1V290.4M516.5 274.9V289.4M518.5 269.9V281.5M519.5 271.9V280.5M530.5 306.9V309.8M533.5 294.7V300.1M534.5 287.7V298.5M535.5 281.5V292.1M536.5 283.5V287.8M538.5 287.3V290.5M539.5 282.0V290.4M549.5 302.6V306.1M550.5 298.2V312.2M553.5 294.1V298.0M554.5 292.9V298.4M555.5 288.7V297.6M558.5 293.2V297.3M560.5 292.6V295.2M568.5 319.5V324.2M576.5 341.1V348.7M578.5 341.7V345.7M579.5 334.6V345.6M581.5 325.6V341.2M584.5 328.5V335.8M588.5 338.7V343.0M601.5 363.9V373.6M603.5 359.2V370.0M608.5 354.9V361.2M609.5 352.7V356.7M610.5 346.5V356.1M614.5 348.1V356.7M620.5 352.7V363.2M624.5 360.0V364.1M631.5 374.9V377.6M640.5 369.4V381.9M641.5 358.6V371.4M642.5 350.8V366.9M643.5 345.7V361.9M649.5 352.9V359.9M655.5 354.1V359.4M656.5 351.3V356.2M657.5 350.0V352.6M658.5 346.9V352.0M659.5 343.0V350.7M660.5 343.8V348.9M663.5 333.4V343.8M668.5 348.0V360.9M670.5 319.0V334.3M671.5 314.9V320.5M685.5 336.2V340.9M687.5 321.5V332.0M689.5 316.6V326.0M690.5 310.3V319.4M691.5 296.0V313.9M692.5 290.5V303.2M694.5 275.2V292.6M696.5 266.9V285.7M697.5 269.7V275.1M704.5 345.0V360.7M705.5 337.7V352.5M710.5 348.9V359.1M711.5 347.3V349.9M717.5 375.4V381.9M718.5 373.0V381.1M719.5 370.0V377.1M722.5 360.3V368.7M723.5 357.8V366.7M725.5 353.1V361.4M732.5 343.6V349.1M734.5 333.0V342.9M735.5 324.1V335.5M740.5 353.5V365.2M742.5 337.8V352.0M746.5 332.2V340.9M750.5 340.8V354.5M751.5 340.4V345.3M752.5 338.5V342.7M754.5 338.1V342.8M758.5 340.3V346.2M765.5 355.7V360.6M768.5 349.8V358.9M769.5 344.4V355.4M797.5 429.7V441.9M798.5 429.3V433.5M804.5 467.9V483.4M805.5 462.9V470.9M806.5 450.3V463.5M807.5 439.9V451.6M808.5 422.9V448.0M809.5 402.7V426.5M810.5 381.0V492.0M814.5 417.5V427.7M815.5 414.8V421.8M816.5 404.2V415.4M817.5 403.2V410.0M821.5 386.0V398.0M823.5 389.3V394.6M828.5 400.0V409.6M829.5 399.9V406.2M831.5 390.3V400.2M848.5 461.6V471.2M849.5 451.6V464.7M850.5 443.9V456.3M851.5 437.2V447.1M856.5 446.0V455.4M858.5 431.7V446.6M861.5 387.5V406.6M862.5 376.3V392.9M863.5 366.0V384.5M864.5 354.8V372.0M865.5 350.1V361.6M866.5 345.4V354.4M876.5 371.8V378.2M878.5 366.0V377.8M880.5 371.0V377.8M886.5 409.1V416.1M887.5 403.0V414.4M888.5 398.1V406.7M894.5 390.5V399.7M897.5 380.9V390.8M902.5 364.8V369.4M903.5 357.5V369.0M904.5 355.6V362.1M907.5 365.2V372.6M908.5 353.9V365.5M909.5 337.4V359.5M916.5 347.8V354.8M922.5 346.7V354.5M923.5 346.5V350.2M924.5 338.6V350.8M925.5 341.6V347.5M926.5 334.4V344.3M927.5 330.3V338.3M930.5 319.3V325.0M931.5 316.7V322.1M932.5 318.7V321.7M934.5 311.5V322.8M936.5 309.6V313.1M940.5 310.0V315.9M942.5 312.5V319.2M951.5 331.4V335.9M959.5 348.3V354.0M960.5 338.0V351.8M961.5 341.5V345.8M962.5 338.3V345.5M963.5 326.5V344.1M964.5 327.5V333.2M965.5 317.6V329.3M971.5 329.6V334.3M974.5 322.8V327.8M976.5 313.3V323.8M977.5 313.4V318.0M982.5 334.7V341.4M984.5 335.3V339.3M985.5 334.6V343.9M986.5 325.9V335.2M987.5 323.9V331.8M988.5 322.5V329.2M991.5 316.6V324.8M992.5 315.1V318.5M994.5 308.1V320.0M996.5 308.9V318.1M1009.5 339.1V346.5M1012.5 345.4V359.9M1015.5 341.9V351.4M1016.5 342.7V348.1M1019.5 340.6V355.3M1020.5 333.4V345.6M1022.5 331.1V337.8M1028.5 342.6V350.0M1032.5 337.2V343.0M1033.5 333.8V338.9M1035.5 329.5V339.0M1039.5 328.3V332.0M1040.5 320.7V330.3M1043.5 333.0V337.3M1046.5 333.8V341.4M1049.5 332.8V344.0M1051.5 330.9V339.2M1052.5 325.0V332.3M1055.5 314.5V328.6M1063.5 322.0V335.1M1064.5 328.4V331.8M1066.5 326.0V332.0M1067.5 323.2V328.0M1069.5 326.6V331.5M1081.5 330.4V336.8M1082.5 326.0V334.0M1085.5 326.4V331.5M1086.5 327.7V333.4M1087.5 322.6V333.1M1088.5 316.0V325.2M1089.5 315.4V323.9M1090.5 312.2V322.2M1092.5 307.9V321.0M1095.5 315.4V325.6M1097.5 314.9V322.3M1099.5 311.4V319.3M1102.5 316.1V320.7M1104.5 321.1V327.2M1105.5 319.9V326.7M1106.5 317.6V322.5M1114.5 325.3V331.0M1118.5 335.4V345.9M1119.5 332.6V340.9M1120.5 332.3V337.9M1121.5 326.7V336.2M1123.5 331.1V333.7M1125.5 323.7V335.6M1126.5 323.7V331.6M1128.5 320.0V328.2M1129.5 305.7V323.6M1130.5 290.0V309.3M1132.5 288.2V297.1M1134.5 287.0V291.3M1135.5 279.6V288.5M1139.5 282.9V286.5M1142.5 281.5V287.3M1143.5 276.8V283.8M1150.5 292.4V299.7M1151.5 292.0V300.7M1153.5 281.6V295.4M1154.5 278.8V287.0M1160.5 271.6V281.9M1161.5 273.7V278.7M1163.5 271.5V279.4M1165.5 265.4V280.2M1166.5 246.4V267.1M1167.5 243.5V264.2M1169.5 236.9V245.0M1170.5 233.7V240.9M1172.5 224.9V235.8M1173.5 221.7V227.0M1175.5 198.8V224.3M1176.5 193.7V204.9M1180.5 200.6V208.9M1181.5 197.5V205.1M1184.5 188.5V197.5M1187.5 182.0V187.3M1189.5 182.9V187.3M1194.5 200.7V213.8M1195.5 195.1V206.9M1197.5 196.5V204.3M1199.5 194.9V198.3M1200.5 193.1V196.1M1210.5 220.7V226.3M1211.5 218.8V227.2M1214.5 203.7V214.9M1216.5 200.4V206.7" stroke="#22ab94" stroke-width="1.6" fill="none"/><path d="M54.5 263.6V277.1M57.5 240.1V252.8M60.5 289.8V297.9M64.5 281.7V289.4M65.5 273.3V283.7M68.5 264.3V275.0M69.5 256.5V269.4M70.5 261.5V264.9M73.5 236.0V300.0M75.5 261.7V274.9M79.5 294.1V308.3M81.5 305.1V312.5M82.5 304.5V311.3M84.5 312.0V316.1M86.5 304.7V315.2M88.5 301.7V314.1M90.5 304.4V313.0M91.5 302.8V308.4M93.5 302.9V312.0M95.5 306.6V310.7M96.5 303.3V312.5M100.5 302.4V307.4M102.5 301.3V307.6M104.5 300.4V310.5M106.5 302.6V309.6M109.5 306.3V313.5M112.5 305.1V315.4M113.5 309.5V312.2M116.5 315.8V323.3M117.5 319.8V325.2M119.5 326.5V338.6M121.5 330.7V348.8M122.5 338.1V353.6M124.5 349.8V363.4M125.5 351.3V363.9M129.5 374.5V385.7M130.5 383.3V401.4M131.5 386.9V397.9M137.5 354.2V363.6M140.5 339.7V350.3M145.5 378.8V403.0M149.5 424.7V432.0M153.5 404.7V425.0M155.5 431.6V447.3M156.5 430.5V446.7M157.5 416.4V434.8M161.5 383.4V393.3M162.5 381.5V386.4M165.5 372.2V379.2M166.5 372.0V379.5M168.5 386.2V410.0M170.5 376.8V394.8M171.5 369.6V384.1M172.5 351.6V370.3M173.5 350.5V354.7M179.5 351.3V364.7M180.5 355.9V367.5M188.5 337.1V347.8M193.5 378.7V385.7M194.5 374.1V379.9M205.5 340.1V348.8M210.5 345.6V354.9M211.5 349.5V355.2M212.5 349.8V360.0M213.5 358.7V369.7M216.5 370.2V381.8M219.5 390.6V399.7M220.5 391.2V399.3M221.5 388.8V395.0M223.5 379.7V385.7M225.5 375.5V384.7M231.5 363.8V371.8M234.5 354.5V365.5M237.5 344.8V354.1M239.5 333.7V346.8M242.5 324.4V330.5M243.5 328.6V333.1M246.5 337.1V341.8M250.5 332.0V336.1M254.5 330.9V339.7M260.5 336.2V343.8M262.5 333.4V340.5M266.5 330.7V341.2M271.5 334.2V337.3M282.5 351.4V356.6M285.5 346.3V362.8M286.5 339.4V349.0M288.5 330.0V341.0M291.5 342.5V355.9M292.5 348.1V359.0M294.5 363.5V371.8M297.5 356.5V359.8M299.5 347.0V358.4M300.5 349.8V356.5M303.5 344.9V351.7M305.5 344.8V353.0M310.5 350.7V357.7M311.5 348.7V357.7M312.5 345.6V349.3M321.5 340.0V346.2M323.5 339.6V349.3M324.5 339.2V357.7M340.5 366.1V369.9M344.5 360.5V369.3M346.5 354.6V362.4M349.5 346.6V353.0M353.5 338.6V350.6M356.5 337.3V341.0M358.5 328.3V339.6M359.5 326.7V341.0M361.5 326.2V331.2M367.5 293.4V302.6M368.5 288.7V299.7M370.5 288.8V299.9M378.5 310.5V313.8M379.5 307.5V314.4M385.5 330.4V347.1M396.5 325.5V332.8M397.5 329.7V336.2M399.5 325.4V334.1M400.5 328.9V341.2M403.5 336.1V344.3M404.5 340.7V346.7M405.5 343.7V349.5M406.5 344.6V354.0M409.5 339.2V343.7M418.5 338.7V346.5M419.5 331.1V344.6M420.5 334.2V338.8M422.5 332.6V338.1M425.5 330.4V338.0M428.5 334.1V341.1M429.5 336.7V343.1M430.5 336.4V340.2M432.5 336.3V342.8M434.5 337.0V340.6M436.5 335.2V344.1M442.5 336.7V340.8M443.5 331.6V339.0M448.5 324.0V332.5M451.5 325.6V335.4M452.5 327.5V333.3M453.5 329.4V336.4M454.5 326.4V333.4M456.5 322.9V329.2M457.5 323.8V328.7M463.5 309.0V315.4M466.5 300.1V311.3M469.5 289.3V295.7M471.5 286.2V294.3M476.5 276.8V284.1M477.5 272.1V280.1M485.5 273.7V283.7M486.5 271.8V284.4M487.5 281.8V285.4M493.5 298.2V301.0M495.5 295.3V304.8M501.5 283.9V292.5M502.5 282.2V286.6M503.5 280.7V284.3M508.5 275.7V280.3M511.5 278.3V283.3M520.5 271.5V281.8M522.5 281.6V291.7M525.5 294.0V297.4M526.5 292.2V298.3M531.5 298.6V308.2M532.5 296.5V305.1M540.5 278.5V287.3M541.5 282.7V287.2M542.5 282.9V288.3M543.5 284.8V288.3M547.5 297.3V305.0M552.5 295.2V301.6M556.5 286.2V290.8M559.5 289.5V295.0M565.5 303.4V315.8M566.5 313.8V322.2M567.5 317.1V326.5M569.5 315.2V322.3M572.5 321.8V332.9M573.5 324.3V336.4M574.5 333.2V342.7M577.5 333.4V347.0M580.5 334.7V339.7M582.5 326.7V331.9M593.5 353.8V361.2M595.5 364.1V372.3M597.5 366.7V376.6M598.5 364.3V375.4M600.5 363.0V374.8M602.5 361.7V368.9M604.5 359.2V367.4M605.5 358.4V365.9M607.5 357.9V364.4M611.5 341.2V352.4M612.5 346.0V353.9M615.5 347.7V352.4M616.5 346.8V352.8M618.5 347.5V353.9M622.5 351.6V365.0M627.5 367.1V372.1M629.5 367.8V377.0M630.5 371.3V379.4M632.5 370.0V379.0M634.5 364.8V376.7M636.5 364.2V370.1M644.5 338.9V353.9M646.5 344.1V349.9M648.5 350.5V362.1M653.5 346.4V358.7M654.5 348.1V357.4M661.5 342.6V345.6M662.5 338.9V346.3M664.5 330.4V336.1M666.5 343.4V355.3M667.5 350.7V360.2M669.5 332.2V351.4M672.5 314.0V322.0M676.5 319.1V328.4M677.5 319.3V323.0M681.5 327.0V338.9M683.5 326.7V336.9M686.5 327.7V336.7M688.5 313.7V326.7M693.5 284.3V296.4M695.5 277.9V286.5M699.5 294.9V331.2M700.5 327.0V348.7M702.5 360.3V365.7M703.5 356.6V360.4M706.5 344.7V349.6M707.5 343.5V348.4M709.5 343.4V356.9M712.5 348.0V354.9M715.5 364.9V376.7M716.5 371.6V379.6M720.5 363.5V371.8M721.5 364.7V371.3M724.5 360.3V364.9M726.5 353.9V362.4M727.5 353.5V359.1M728.5 351.3V358.5M729.5 352.2V356.5M730.5 347.0V354.7M731.5 348.3V352.9M733.5 335.3V345.6M738.5 362.8V372.3M739.5 361.9V372.2M741.5 345.1V356.2M743.5 332.4V343.5M753.5 339.7V344.4M755.5 334.4V346.1M759.5 342.7V346.7M763.5 357.1V366.2M764.5 356.2V366.2M766.5 352.7V359.9M767.5 349.4V360.1M770.5 347.1V350.3M774.5 349.5V358.2M775.5 342.0V351.9M776.5 344.1V347.2M778.5 346.0V354.1M782.5 352.1V356.8M783.5 344.3V355.1M786.5 350.2V359.1M795.5 426.4V436.1M799.5 420.0V431.4M800.5 422.6V435.9M803.5 461.9V482.2M812.5 401.3V420.0M818.5 398.5V404.2M819.5 400.4V408.0M820.5 394.0V404.8M825.5 391.0V404.7M826.5 395.8V405.7M827.5 402.4V412.5M830.5 395.4V400.8M832.5 394.0V398.6M833.5 391.8V399.7M834.5 388.7V410.0M836.5 416.5V432.0M837.5 423.9V432.7M838.5 423.8V440.0M839.5 434.0V443.9M843.5 452.2V460.2M846.5 471.1V477.5M847.5 469.6V479.0M852.5 435.4V452.7M855.5 450.2V457.5M857.5 441.0V449.7M859.5 417.2V434.4M860.5 401.5V422.0M867.5 347.2V359.7M869.5 356.0V366.5M870.5 360.1V365.2M872.5 362.4V369.1M873.5 365.9V371.8M879.5 368.0V375.7M885.5 414.5V423.5M890.5 400.7V409.3M891.5 404.2V417.5M892.5 397.8V414.1M893.5 398.2V406.9M895.5 384.7V395.3M896.5 378.7V388.7M898.5 380.2V384.4M899.5 378.6V386.0M900.5 369.4V381.0M901.5 363.4V374.8M905.5 355.6V372.5M911.5 340.2V346.5M919.5 353.4V358.7M921.5 346.5V356.5M928.5 320.7V334.4M929.5 322.9V333.8M935.5 310.6V317.9M939.5 308.5V320.6M943.5 312.5V320.2M945.5 321.7V329.5M947.5 328.5V333.7M949.5 330.4V337.0M950.5 330.4V339.7M953.5 331.1V337.5M954.5 334.3V338.2M955.5 333.3V344.3M957.5 344.5V350.2M958.5 343.4V355.9M966.5 319.0V324.9M967.5 320.2V327.8M968.5 323.0V329.3M969.5 322.9V335.9M973.5 325.1V332.5M975.5 319.0V323.8M978.5 314.0V320.8M979.5 315.8V334.1M981.5 335.7V343.2M989.5 315.5V327.4M990.5 318.4V323.9M995.5 308.8V316.8M997.5 300.7V314.9M998.5 300.9V309.2M999.5 303.2V306.8M1010.5 339.0V354.5M1011.5 346.7V357.2M1013.5 341.9V347.1M1023.5 324.7V337.2M1024.5 320.1V329.4M1030.5 334.1V348.4M1031.5 338.3V350.1M1036.5 327.1V336.0M1038.5 325.2V338.4M1041.5 318.9V333.1M1044.5 332.0V336.1M1048.5 334.1V339.2M1050.5 331.1V337.7M1053.5 318.1V325.4M1061.5 323.2V331.1M1062.5 328.0V333.6M1070.5 327.2V335.9M1072.5 329.8V335.2M1073.5 327.6V332.7M1075.5 327.3V337.8M1076.5 328.8V336.9M1078.5 332.4V339.0M1079.5 327.9V338.4M1091.5 314.2V320.2M1094.5 315.9V326.3M1096.5 311.2V321.0M1108.5 321.5V326.3M1113.5 325.0V329.2M1115.5 325.6V331.6M1124.5 330.0V333.6M1127.5 322.7V330.3M1131.5 292.9V297.6M1137.5 280.9V290.9M1138.5 281.8V285.2M1145.5 278.1V288.5M1147.5 299.0V304.7M1148.5 300.0V303.4M1149.5 298.4V306.2M1152.5 291.6V296.9M1155.5 267.3V282.1M1159.5 270.3V279.0M1164.5 269.4V278.5M1168.5 243.9V249.4M1171.5 230.3V238.7M1174.5 219.7V228.0M1182.5 191.6V205.7M1183.5 187.1V200.3M1186.5 184.2V194.8M1198.5 189.2V198.0M1204.5 198.7V207.6M1206.5 204.1V214.5M1212.5 211.5V221.6M1213.5 210.5V216.7M1215.5 202.5V209.9" stroke="#8a8a8a" stroke-width="1.6" fill="none"/></g><circle cx="195.6" cy="362" r="4.6" fill="#a0a0a0" fill-opacity="0.45"/><path d="M54 181.7L1435.5 463.5" stroke="#ffffff" stroke-width="1.9" fill="none" stroke-linecap="round"/><path d="M47 620.5H1575" stroke="#9a9a9a" stroke-width="1" stroke-dasharray="5.2 5.8" fill="none"/><path d="M47 649.3H1575" stroke="#9a9a9a" stroke-width="1" stroke-dasharray="5.2 5.8" fill="none"/><path d="M47 677.7H1575" stroke="#9a9a9a" stroke-width="1" stroke-dasharray="5.2 5.8" fill="none"/><path d="M54.0 644.2L54.3 646.3L55.2 653.7L56.5 664.3L57.8 675.1L58.0 673.5L59.0 667.8L60.2 661.7L61.5 656.3L61.5 657.5L62.8 653.9L64.0 652.3L65.2 651.8L66.5 645.5L67.2 646.3L67.8 647.5L69.0 643.8L70.2 639.7L71.5 634.7L72.4 636.2L72.8 636.6L74.0 645.5L75.2 655.5L75.8 656.3L76.5 652.1L77.8 660.6L79.0 660.8L80.2 659.0L81.5 663.5L81.5 665.7L82.8 664.0L84.0 663.6L85.2 659.5L86.5 658.6L87.8 663.3L88.7 660.6L89.0 664.1L90.2 660.6L91.5 658.4L92.8 657.0L94.0 653.0L95.2 659.2L95.9 656.3L96.5 655.9L97.8 658.9L99.0 653.5L100.2 657.8L101.5 652.8L102.8 655.8L104.0 657.5L105.2 651.8L105.9 653.4L106.5 656.4L107.8 655.3L109.0 654.1L110.2 658.3L111.5 660.8L111.6 659.2L112.8 661.1L114.0 666.3L115.2 669.6L116.0 673.5L116.5 673.5L117.8 680.0L119.0 687.6L120.2 689.2L120.3 690.7L121.5 695.8L122.8 693.6L123.0 695.0L124.0 690.1L125.2 690.7L126.5 687.6L127.8 678.3L128.9 676.4L129.0 677.5L130.2 668.0L131.5 664.9L132.8 660.0L133.2 659.2L134.0 662.1L135.2 658.7L136.5 662.3L137.5 664.9L137.8 661.6L139.0 655.9L140.2 644.7L141.2 642.0L141.5 640.8L142.8 661.0L144.0 663.8L144.6 667.8L145.2 664.8L146.5 672.5L147.8 668.6L148.9 673.5L149.0 668.4L150.2 674.2L151.5 669.8L152.8 661.0L153.2 662.0L154.0 657.1L155.2 657.8L156.5 658.5L157.5 650.6L157.8 651.6L159.0 649.3L160.2 642.0L161.5 638.0L162.8 641.1L163.3 639.0L164.0 643.3L165.2 643.9L166.5 646.5L167.0 647.7L167.8 648.4L169.0 637.9L170.2 638.1L171.5 632.7L171.9 629.0L172.8 628.0L174.0 630.9L175.2 631.9L176.5 634.0L177.6 633.4L177.8 631.3L179.0 636.9L180.2 641.4L181.5 644.9L182.5 647.7L182.8 647.0L184.0 644.0L185.2 639.3L186.5 634.9L187.8 635.2L189.0 627.3L189.0 629.0L190.2 638.7L191.5 647.8L191.9 653.4L192.8 647.5L194.0 647.3L195.2 641.7L196.5 637.2L197.7 633.4L197.8 634.5L199.0 632.6L200.2 634.5L201.5 637.1L202.8 633.1L203.4 632.0L204.0 632.7L205.2 640.4L206.5 640.8L207.8 637.5L209.0 648.0L209.1 644.8L210.2 649.3L211.5 655.3L212.8 654.5L214.0 659.6L214.9 664.9L215.2 663.7L216.5 668.4L217.8 665.8L219.0 668.5L219.2 670.6L220.2 669.4L221.5 660.9L222.8 658.4L224.0 651.5L224.9 650.6L225.2 645.7L226.5 647.8L227.8 645.6L229.0 640.2L230.2 644.4L231.5 641.9L232.0 639.0L232.8 639.2L234.0 632.3L235.2 627.3L236.5 626.6L237.8 623.9L237.8 623.3L239.0 620.6L240.2 617.1L241.5 613.7L241.5 616.2L242.8 618.0L244.0 623.3L245.2 625.9L246.4 630.5L246.5 634.8L247.8 630.5L249.0 633.0L250.2 631.2L251.5 632.6L252.2 633.4L252.8 632.0L254.0 635.8L255.2 635.7L256.5 636.7L257.8 647.9L257.9 644.8L259.0 640.7L260.2 643.0L261.5 640.0L262.8 637.3L263.6 637.7L264.0 639.6L265.2 636.6L266.5 639.3L267.8 637.5L269.0 641.1L270.2 641.3L270.8 639.0L271.5 639.3L272.8 642.3L274.0 641.1L275.2 644.1L276.5 640.2L276.5 640.5L277.8 639.5L279.0 646.9L280.2 649.9L280.8 650.6L281.5 658.3L282.8 674.1L283.7 686.4L284.0 682.9L285.2 668.7L286.5 664.7L287.8 646.7L288.0 646.3L289.0 647.8L290.2 651.9L291.5 659.1L292.8 666.4L293.7 670.6L294.0 673.1L295.2 665.6L296.5 657.0L297.8 650.5L299.0 645.5L299.5 646.3L300.2 645.9L301.5 648.1L302.8 644.4L304.0 649.4L305.2 650.0L306.5 645.2L306.6 644.8L307.8 637.0L309.0 642.8L310.2 637.3L311.5 636.8L312.8 635.1L313.8 630.5L314.0 628.5L315.2 634.6L316.5 638.3L317.8 639.4L318.0 642.0L319.0 646.2L320.2 647.2L321.5 649.6L322.8 658.5L323.8 656.3L324.0 656.9L325.2 661.9L326.5 658.6L327.8 662.8L329.0 659.5L329.6 662.0L330.2 664.1L331.5 669.8L332.8 664.9L333.9 673.5L334.0 674.5L335.2 668.0L336.5 667.1L337.8 660.4L339.0 655.3L339.6 653.4L340.2 649.1L341.5 657.9L342.8 646.5L344.0 645.6L345.2 642.6L346.5 641.7L346.8 642.0L347.8 641.0L349.0 635.1L350.2 639.2L351.5 633.8L352.8 634.0L354.0 625.1L354.0 630.5L355.2 626.6L356.5 624.6L357.8 621.8L359.0 618.6L360.2 618.5L361.0 616.2L361.5 616.5L362.8 611.3L364.0 607.1L365.2 612.3L366.3 609.0L366.5 609.0L367.8 617.5L369.0 621.9L370.2 624.4L371.0 627.6L371.5 624.4L372.8 628.4L374.0 628.7L375.2 634.9L376.5 628.7L376.9 633.4L377.8 639.1L379.0 637.9L380.2 645.3L381.2 650.6L381.5 648.4L382.8 656.0L384.0 662.4L384.0 663.5L385.2 662.7L386.5 658.5L387.8 660.0L389.0 660.9L390.2 655.1L391.2 653.4L391.5 650.6L392.8 653.9L394.0 654.8L395.2 654.9L396.5 659.5L397.8 660.2L398.4 657.7L399.0 663.5L400.2 661.4L401.5 654.9L402.8 662.9L404.0 664.9L404.0 666.6L405.2 660.4L406.5 658.5L407.8 659.9L409.0 655.5L410.2 649.8L411.3 650.6L411.5 649.0L412.8 642.2L414.0 649.6L415.2 646.0L416.5 648.5L417.8 645.2L419.0 645.3L420.2 645.9L421.5 653.8L422.8 643.3L422.8 646.3L424.0 643.7L425.2 645.8L426.5 650.4L427.8 650.2L429.0 650.4L430.0 649.0L430.2 648.6L431.5 651.8L432.8 651.6L434.0 655.2L435.2 655.6L436.5 656.1L437.0 660.6L437.8 656.2L439.0 660.6L440.2 653.6L441.5 647.6L442.8 646.2L444.0 642.3L445.2 643.4L445.8 639.0L446.5 636.4L447.8 630.3L449.0 629.1L450.2 623.7L451.5 616.7L452.8 611.9L453.0 613.0L454.0 617.0L455.2 617.0L456.5 623.4L457.0 627.6L457.8 626.9L459.0 621.1L460.2 616.4L461.5 607.0L462.0 606.0L462.8 604.7L464.0 605.8L465.2 605.5L466.5 610.3L467.8 606.8L468.7 607.6L469.0 611.8L470.2 609.7L471.5 615.6L472.8 621.9L474.0 619.1L474.4 622.0L475.2 620.0L476.5 619.6L477.8 616.5L479.0 619.3L480.2 617.9L481.5 624.6L481.6 619.0L482.8 625.1L484.0 628.8L485.2 644.6L486.5 652.6L487.0 653.4L487.8 654.0L489.0 656.0L490.2 658.2L491.5 656.2L492.8 658.9L493.0 659.0L494.0 654.9L495.2 653.3L496.5 647.1L497.8 638.5L498.8 633.4L499.0 630.0L500.2 635.6L501.5 633.2L502.8 636.4L504.0 633.5L505.2 633.9L506.0 633.4L506.5 636.5L507.8 636.8L509.0 640.8L510.2 652.1L511.5 647.8L511.7 650.6L512.8 650.9L514.0 647.7L515.2 645.6L516.5 644.4L517.8 635.1L519.0 636.0L519.0 638.4L520.2 635.8L521.5 646.3L522.8 652.1L524.0 658.9L525.2 664.2L526.5 664.1L527.5 670.6L527.8 669.0L529.0 664.6L530.2 658.6L531.5 653.6L532.8 649.4L534.0 649.3L535.2 645.2L536.0 639.0L536.5 641.7L537.8 646.2L539.0 644.2L540.2 643.3L541.5 646.4L542.8 650.7L543.0 650.6L544.0 656.9L545.2 662.1L546.5 661.4L547.6 667.8L547.8 669.6L549.0 661.0L550.2 659.1L551.5 655.1L552.8 651.8L554.0 641.8L554.7 640.5L555.2 642.1L556.5 644.7L557.8 644.7L559.0 648.2L560.2 651.7L560.5 650.6L561.5 650.4L562.8 658.0L564.0 670.4L565.2 670.7L566.5 673.2L567.6 679.0L567.8 674.6L569.0 679.4L570.2 685.7L571.5 688.6L572.8 690.5L573.4 690.7L574.0 690.0L575.2 682.5L576.5 683.5L577.8 672.1L579.0 671.7L580.2 665.2L580.5 665.0L581.5 662.2L582.8 670.8L584.0 669.7L585.2 674.1L586.0 673.5L586.5 677.7L587.8 677.3L589.0 677.6L590.2 681.2L591.5 683.9L592.8 690.2L593.4 687.8L594.0 688.7L595.2 688.1L596.5 683.4L597.8 677.0L599.0 676.4L599.0 678.7L600.2 673.4L601.5 665.2L602.8 661.3L604.0 653.8L605.2 646.0L606.0 646.0L606.5 645.4L607.8 646.7L609.0 642.9L610.2 637.2L611.5 639.9L612.8 643.8L613.5 640.5L614.0 642.5L615.2 648.6L616.5 647.5L617.8 652.1L619.0 654.4L620.2 658.7L620.7 662.0L621.5 664.2L622.8 664.8L624.0 664.7L625.2 668.2L626.5 665.6L627.8 669.5L629.0 668.2L629.0 672.0L630.2 664.8L631.5 661.9L632.8 659.2L634.0 662.6L635.0 656.0L635.2 658.8L636.5 654.7L637.8 646.4L639.0 645.7L640.2 637.5L641.5 635.3L642.8 633.6L643.6 630.5L644.0 627.4L645.2 635.2L646.5 639.5L647.8 635.9L649.0 638.2L650.2 646.9L650.8 649.0L651.5 647.6L652.8 646.4L654.0 641.3L655.2 643.7L656.5 640.7L657.8 636.6L659.0 640.7L659.4 636.0L660.2 632.8L661.5 628.3L662.8 625.5L662.8 620.5L664.0 618.5L665.2 618.6L666.5 614.0L667.8 617.2L668.0 617.6L669.0 619.7L670.2 626.3L671.5 622.6L672.8 623.0L674.0 620.5L675.0 624.8L675.2 623.6L676.5 626.2L677.8 632.5L679.0 641.4L680.2 647.0L681.5 649.0L682.0 653.4L682.8 650.0L684.0 643.7L685.2 642.6L686.5 637.8L687.8 630.0L689.0 625.5L689.5 624.8L690.2 618.9L691.5 616.2L692.8 618.4L693.0 611.9L694.0 617.6L695.2 627.2L696.5 633.7L696.7 633.4L697.8 651.7L699.0 664.2L699.5 672.0L700.2 667.9L701.5 669.9L702.8 666.7L704.0 659.6L705.0 659.0L705.2 662.2L706.5 661.3L707.8 663.3L709.0 670.1L710.2 668.8L711.5 670.2L712.8 670.7L714.0 673.5L714.0 674.0L715.2 673.0L716.5 668.2L717.8 661.9L719.0 661.7L720.2 657.1L721.5 654.9L722.8 650.4L724.0 642.1L724.0 647.7L725.2 640.6L726.5 640.8L727.8 633.2L729.0 632.0L730.2 638.1L731.5 631.7L732.5 627.6L732.8 628.0L734.0 637.9L735.2 639.3L736.5 653.6L736.8 654.9L737.8 654.3L739.0 648.0L740.2 640.1L741.5 641.7L742.5 636.0L742.8 634.8L744.0 635.7L745.2 638.6L746.5 638.3L747.8 645.3L749.0 640.6L750.2 647.5L751.5 644.0L752.8 640.6L754.0 644.8L754.0 644.8L755.2 647.9L756.5 654.3L757.8 656.9L759.0 663.0L760.2 657.8L761.5 661.3L762.6 665.0L762.8 670.7L764.0 659.5L765.2 659.8L766.5 660.1L767.8 650.5L769.0 649.4L770.2 645.5L771.5 645.8L772.6 642.0L772.8 643.3L774.0 644.2L775.2 648.1L776.5 646.5L777.8 649.6L779.0 653.8L780.2 659.9L781.0 656.0L781.5 657.3L782.8 661.3L784.0 668.0L785.2 668.6L786.5 675.3L787.0 673.5L787.8 680.5L789.0 693.4L790.0 699.0L790.2 699.0L791.5 693.6L792.8 691.3L794.0 692.0L795.2 693.4L795.6 687.8L796.5 693.5L797.8 689.4L799.0 697.9L800.2 690.2L801.5 692.2L802.0 695.0L802.8 692.9L804.0 679.1L805.2 677.9L806.5 668.9L807.8 662.1L808.5 656.0L809.0 651.9L810.2 653.6L811.5 652.5L812.8 647.6L814.0 647.9L815.2 642.9L815.7 642.0L816.5 641.8L817.8 638.6L819.0 634.3L820.2 635.8L821.4 634.8L821.5 636.3L822.8 636.0L824.0 635.8L825.2 639.7L825.7 644.8L826.5 647.8L827.8 643.4L829.0 641.5L830.2 646.3L831.5 642.1L832.8 638.2L833.0 642.0L834.0 644.7L835.2 648.4L836.5 655.0L837.8 658.0L839.0 665.3L840.0 669.0L840.2 670.6L841.5 670.0L842.8 673.1L844.0 675.2L845.2 679.9L846.5 678.0L847.0 680.7L847.8 676.9L849.0 668.4L850.2 655.1L851.5 643.5L851.5 646.0L852.8 646.9L854.0 644.8L855.2 649.6L856.5 649.6L857.0 653.4L857.8 646.9L859.0 636.2L860.2 628.3L861.5 617.1L861.6 616.0L862.8 616.7L864.0 614.9L865.0 614.7L865.2 616.2L866.5 616.5L867.8 625.1L869.0 630.6L870.0 630.5L870.2 633.6L871.5 628.2L872.8 633.7L874.0 629.5L875.2 636.6L876.5 635.0L877.0 636.0L877.8 639.1L879.0 645.6L880.2 654.2L881.5 662.0L882.5 667.8L882.8 664.7L884.0 664.3L885.2 661.8L886.5 659.5L887.4 656.0L887.8 656.5L889.0 658.6L890.2 666.8L891.0 662.0L891.5 662.7L892.8 656.6L894.0 647.6L895.2 648.3L896.5 643.7L897.4 639.0L897.8 631.1L899.0 634.0L900.2 631.8L901.5 627.3L902.8 624.0L903.0 623.0L904.0 622.9L905.2 627.3L906.5 625.0L907.8 623.7L909.0 624.2L909.0 624.8L910.2 632.7L911.5 627.6L912.8 631.0L914.0 635.7L915.2 637.8L916.5 640.7L917.5 642.0L917.8 645.2L919.0 643.1L920.2 639.8L921.5 637.3L922.8 635.6L924.0 633.6L924.7 633.4L925.2 634.0L926.5 623.6L927.8 619.6L929.0 616.6L929.5 616.0L930.2 614.2L931.5 615.9L932.8 622.1L934.0 614.4L935.2 622.8L936.0 622.0L936.5 618.9L937.8 622.5L939.0 622.5L940.2 622.3L941.5 621.8L942.0 626.0L942.8 630.3L944.0 629.2L945.2 638.1L946.0 647.7L946.5 648.0L947.8 655.2L949.0 660.4L950.2 658.3L951.5 660.3L952.5 665.0L952.8 662.9L954.0 658.0L955.2 652.5L956.0 646.0L956.5 645.5L957.8 654.0L959.0 657.6L960.2 665.5L960.5 663.5L961.5 656.4L962.8 649.5L964.0 640.3L964.8 637.7L965.2 634.9L966.5 640.8L967.8 643.8L969.0 646.7L970.2 646.3L970.5 646.0L971.5 643.3L972.8 640.2L974.0 637.7L975.2 637.0L976.0 637.7L976.5 639.9L977.8 642.8L979.0 640.2L980.2 649.4L980.6 650.6L981.5 648.4L982.8 644.4L984.0 645.0L985.2 644.4L986.5 638.3L987.7 639.0L987.8 635.4L989.0 636.5L990.2 636.4L991.5 633.4L992.8 636.5L994.0 631.3L995.2 626.7L995.5 629.0L996.5 633.5L997.8 633.1L999.0 639.7L1000.2 641.4L1000.6 642.0L1001.5 650.4L1002.8 652.0L1004.0 663.8L1005.0 667.8L1005.2 669.5L1006.5 668.9L1007.8 676.0L1009.0 682.9L1009.8 679.0L1010.2 678.7L1011.5 672.4L1012.8 670.7L1014.0 671.0L1015.0 665.0L1015.2 665.2L1016.5 665.7L1017.8 657.7L1019.0 660.2L1020.2 650.2L1020.7 653.4L1021.5 649.7L1022.8 644.2L1024.0 638.5L1025.2 637.9L1025.9 632.0L1026.5 645.2L1027.0 659.0L1027.8 658.0L1029.0 658.5L1030.2 652.7L1031.5 646.2L1032.0 646.0L1032.8 643.3L1034.0 638.8L1035.2 643.7L1036.5 643.8L1037.8 643.1L1039.0 639.0L1039.0 639.6L1040.2 645.1L1041.5 642.0L1042.8 634.5L1044.0 638.7L1045.2 643.6L1046.5 640.9L1046.5 642.0L1047.8 642.8L1049.0 645.9L1050.2 635.9L1051.5 642.2L1052.0 636.0L1052.8 636.6L1054.0 634.4L1055.2 639.9L1056.5 643.4L1057.8 641.0L1059.0 647.9L1060.2 643.0L1060.9 646.0L1061.5 646.0L1062.8 650.1L1064.0 648.2L1065.2 648.5L1066.5 651.0L1067.8 653.9L1069.0 657.7L1070.2 658.0L1071.5 660.4L1072.0 656.0L1072.8 655.5L1074.0 650.5L1075.2 653.9L1076.5 652.2L1077.8 650.0L1079.0 650.5L1080.2 650.9L1081.0 650.6L1081.5 648.7L1082.8 645.9L1084.0 636.1L1085.2 636.4L1086.5 628.5L1086.7 627.6L1087.8 628.8L1089.0 629.3L1090.2 622.1L1091.5 628.6L1092.8 621.8L1093.8 623.0L1094.0 626.1L1095.2 641.0L1096.5 653.7L1096.7 653.4L1097.8 646.5L1099.0 647.6L1100.2 646.7L1101.5 640.0L1102.0 639.0L1102.8 639.9L1104.0 642.2L1105.2 648.2L1106.5 644.5L1107.8 645.3L1109.0 646.8L1109.6 650.6L1110.2 652.1L1111.5 658.4L1112.8 665.5L1114.0 669.9L1115.2 671.2L1116.0 679.0L1116.5 672.5L1117.8 672.3L1119.0 666.4L1120.2 655.0L1121.0 654.9L1121.5 655.7L1122.8 642.9L1124.0 651.1L1125.2 642.6L1126.5 632.7L1126.8 636.0L1127.8 630.9L1129.0 621.0L1130.2 611.5L1131.0 607.6L1131.5 606.8L1132.8 607.7L1134.0 608.6L1135.2 607.0L1136.5 608.4L1136.8 610.0L1137.8 616.1L1139.0 622.1L1140.2 623.4L1141.0 630.5L1141.5 626.6L1142.8 625.4L1144.0 614.7L1144.0 616.5L1145.2 629.7L1146.5 632.7L1147.5 644.8L1147.8 641.1L1149.0 633.3L1150.2 629.0L1151.5 628.1L1152.6 624.8L1152.8 622.3L1154.0 623.8L1155.2 626.4L1156.5 629.4L1157.0 630.5L1157.8 632.1L1159.0 630.3L1160.2 623.3L1161.5 630.7L1162.8 625.0L1164.0 622.2L1164.0 624.8L1165.2 616.9L1166.5 608.2L1167.5 603.0L1167.8 599.4L1169.0 607.0L1170.2 601.5L1171.5 601.4L1172.8 604.4L1174.0 607.3L1175.2 604.3L1175.5 603.0L1176.5 605.1L1177.8 614.2L1178.4 616.0L1179.0 618.4L1180.2 615.6L1181.5 615.4L1182.8 611.6L1184.0 611.7L1184.0 611.9L1185.2 612.5L1186.5 620.1L1187.8 624.0L1189.0 632.0L1190.0 636.0L1190.2 639.6L1191.5 628.7L1192.8 629.9L1194.0 629.6L1195.2 630.6L1195.6 630.5L1196.5 635.7L1197.8 633.6L1199.0 636.6L1200.2 644.8L1201.5 645.6L1202.8 649.0L1202.8 647.7L1204.0 653.5L1205.2 653.2L1206.5 659.5L1207.8 661.0L1208.5 665.0L1209.0 660.8L1210.2 657.1L1211.5 652.0L1212.8 641.7L1212.8 644.8L1214.0 639.9L1215.2 640.4L1215.7 637.7" stroke="#7e57c2" stroke-width="1.4" fill="none" stroke-linejoin="round"/><path d="M54.0 646.3L56.0 647.3L58.0 650.1L60.0 652.4L62.0 653.7L64.0 654.5L66.0 654.8L68.0 654.8L70.0 654.2L72.0 652.9L74.0 650.6L76.0 648.6L78.0 648.3L80.0 649.0L82.0 650.5L84.0 652.2L86.0 654.4L88.0 656.9L90.0 659.4L92.0 660.6L94.0 660.7L96.0 660.3L98.0 659.6L100.0 658.7L102.0 657.8L104.0 656.9L106.0 656.1L108.0 655.5L110.0 655.4L112.0 655.7L114.0 656.8L116.0 658.7L118.0 661.6L120.0 665.5L122.0 670.0L124.0 674.7L126.0 678.3L128.0 681.0L130.0 682.4L132.0 682.1L134.0 680.3L136.0 677.8L138.0 674.5L140.0 669.6L142.0 664.4L144.0 661.5L146.0 660.5L148.0 660.7L150.0 661.8L152.0 662.5L154.0 662.2L156.0 661.9L158.0 662.4L160.0 661.8L162.0 659.1L164.0 655.5L166.0 652.1L168.0 649.4L170.0 646.4L172.0 643.1L174.0 640.4L176.0 638.4L178.0 637.1L180.0 636.9L182.0 637.3L184.0 637.1L186.0 636.7L188.0 636.6L190.0 637.1L192.0 639.2L194.0 641.0L196.0 641.6L198.0 640.8L200.0 639.2L202.0 638.1L204.0 637.7L206.0 638.4L208.0 638.4L210.0 637.8L212.0 638.8L214.0 641.4L216.0 645.3L218.0 649.4L220.0 653.8L222.0 657.1L224.0 659.0L226.0 659.8L228.0 659.4L230.0 657.8L232.0 655.0L234.0 651.2L236.0 646.5L238.0 641.6L240.0 637.0L242.0 632.9L244.0 629.9L246.0 627.9L248.0 626.7L250.0 626.0L252.0 626.1L254.0 627.2L256.0 629.3L258.0 632.3L260.0 635.1L262.0 636.9L264.0 637.9L266.0 638.6L268.0 639.3L270.0 639.9L272.0 640.0L274.0 639.7L276.0 639.3L278.0 639.4L280.0 640.4L282.0 642.9L284.0 647.9L286.0 651.6L288.0 653.0L290.0 654.6L292.0 657.1L294.0 660.3L296.0 662.4L298.0 662.8L300.0 660.0L302.0 656.1L304.0 654.3L306.0 653.9L308.0 652.3L310.0 649.2L312.0 645.4L314.0 642.2L316.0 640.4L318.0 639.7L320.0 639.8L322.0 640.4L324.0 641.7L326.0 643.7L328.0 646.4L330.0 649.8L332.0 653.9L334.0 657.9L336.0 660.8L338.0 662.3L340.0 662.4L342.0 661.6L344.0 660.2L346.0 658.3L348.0 655.5L350.0 651.7L352.0 647.4L354.0 643.5L356.0 640.0L358.0 636.6L360.0 633.1L362.0 629.6L364.0 626.1L366.0 622.7L368.0 620.0L370.0 618.7L372.0 618.6L374.0 619.1L376.0 620.4L378.0 622.6L380.0 626.0L382.0 630.8L384.0 636.8L386.0 641.9L388.0 645.8L390.0 648.9L392.0 651.6L394.0 654.1L396.0 656.1L398.0 657.2L400.0 657.4L402.0 657.3L404.0 657.8L406.0 658.4L408.0 658.8L410.0 658.8L412.0 658.3L414.0 657.5L416.0 656.4L418.0 655.0L420.0 653.2L422.0 651.2L424.0 649.6L426.0 648.5L428.0 648.1L430.0 647.9L432.0 648.1L434.0 648.9L436.0 650.1L438.0 651.5L440.0 652.4L442.0 652.8L444.0 652.4L446.0 651.4L448.0 649.4L450.0 646.1L452.0 641.7L454.0 636.4L456.0 632.3L458.0 629.1L460.0 625.6L462.0 621.6L464.0 618.0L466.0 615.4L468.0 613.7L470.0 613.1L472.0 612.6L474.0 611.9L476.0 611.9L478.0 612.9L480.0 614.5L482.0 616.2L484.0 619.0L486.0 623.2L488.0 628.1L490.0 632.7L492.0 636.9L494.0 641.1L496.0 644.4L498.0 646.7L500.0 647.7L502.0 647.2L504.0 645.2L506.0 642.7L508.0 640.5L510.0 638.8L512.0 638.4L514.0 638.8L516.0 639.8L518.0 640.4L520.0 641.0L522.0 642.5L524.0 644.8L526.0 647.3L528.0 649.8L530.0 651.5L532.0 652.8L534.0 653.6L536.0 654.1L538.0 654.0L540.0 653.4L542.0 652.2L544.0 650.5L546.0 649.7L548.0 650.4L550.0 651.4L552.0 652.4L554.0 653.0L556.0 652.9L558.0 652.8L560.0 652.7L562.0 652.5L564.0 652.3L566.0 653.1L568.0 655.6L570.0 659.6L572.0 664.9L574.0 670.2L576.0 674.5L578.0 677.4L580.0 678.5L582.0 678.5L584.0 677.9L586.0 677.0L588.0 676.0L590.0 675.0L592.0 674.7L594.0 675.5L596.0 676.9L598.0 678.4L600.0 679.1L602.0 678.5L604.0 676.4L606.0 672.9L608.0 668.5L610.0 663.5L612.0 658.3L614.0 653.6L616.0 650.0L618.0 647.9L620.0 647.6L622.0 648.8L624.0 651.1L626.0 653.9L628.0 657.2L630.0 660.6L632.0 663.2L634.0 664.4L636.0 664.3L638.0 662.9L640.0 660.3L642.0 656.8L644.0 652.4L646.0 648.2L648.0 645.0L650.0 643.0L652.0 641.9L654.0 641.1L656.0 640.7L658.0 640.6L660.0 640.7L662.0 639.9L664.0 637.8L666.0 635.0L668.0 631.5L670.0 628.3L672.0 625.7L674.0 623.6L676.0 622.4L678.0 622.9L680.0 625.3L682.0 629.1L684.0 632.5L686.0 635.1L688.0 636.5L690.0 636.9L692.0 636.0L694.0 634.2L696.0 632.7L698.0 632.3L700.0 634.3L702.0 637.0L704.0 640.1L706.0 643.8L708.0 648.7L710.0 654.9L712.0 660.6L714.0 665.3L716.0 666.6L718.0 666.0L720.0 665.3L722.0 664.6L724.0 663.2L726.0 660.8L728.0 657.4L730.0 653.1L732.0 648.2L734.0 644.3L736.0 642.5L738.0 642.0L740.0 641.3L742.0 640.5L744.0 639.9L746.0 640.0L748.0 640.9L750.0 642.3L752.0 642.6L754.0 641.7L756.0 641.6L758.0 642.8L760.0 645.2L762.0 648.2L764.0 651.0L766.0 653.0L768.0 654.4L770.0 655.1L772.0 654.9L774.0 654.0L776.0 653.0L778.0 651.9L780.0 650.7L782.0 650.3L784.0 651.1L786.0 653.2L788.0 656.9L790.0 662.9L792.0 668.9L794.0 674.0L796.0 678.4L798.0 682.5L800.0 686.2L802.0 689.5L804.0 691.2L806.0 689.7L808.0 685.5L810.0 680.8L812.0 676.1L814.0 671.1L816.0 665.4L818.0 659.1L820.0 652.6L822.0 647.4L824.0 644.1L826.0 642.6L828.0 641.6L830.0 641.0L832.0 640.8L834.0 641.2L836.0 642.7L838.0 645.5L840.0 649.0L842.0 652.5L844.0 656.0L846.0 660.1L848.0 664.1L850.0 666.3L852.0 666.4L854.0 665.6L856.0 664.2L858.0 661.8L860.0 657.1L862.0 650.2L864.0 642.6L866.0 636.4L868.0 632.7L870.0 630.6L872.0 628.4L874.0 626.1L876.0 625.4L878.0 627.0L880.0 631.1L882.0 636.7L884.0 642.1L886.0 646.2L888.0 649.2L890.0 652.4L892.0 655.5L894.0 657.5L896.0 657.7L898.0 655.6L900.0 651.8L902.0 647.6L904.0 643.5L906.0 639.4L908.0 635.1L910.0 631.5L912.0 629.2L914.0 628.2L916.0 628.5L918.0 629.8L920.0 631.5L922.0 633.2L924.0 634.4L926.0 635.1L928.0 634.6L930.0 632.8L932.0 630.7L934.0 628.3L936.0 626.1L938.0 624.2L940.0 622.9L942.0 622.0L944.0 622.8L946.0 625.8L948.0 629.9L950.0 634.4L952.0 639.3L954.0 643.7L956.0 646.6L958.0 649.8L960.0 653.4L962.0 655.5L964.0 655.1L966.0 653.3L968.0 651.2L970.0 649.0L972.0 647.9L974.0 647.1L976.0 645.1L978.0 642.8L980.0 642.4L982.0 643.4L984.0 644.1L986.0 644.0L988.0 643.3L990.0 642.6L992.0 641.9L994.0 641.0L996.0 639.3L998.0 637.5L1000.0 636.5L1002.0 636.8L1004.0 639.0L1006.0 642.6L1008.0 647.1L1010.0 652.4L1012.0 657.6L1014.0 662.0L1016.0 665.2L1018.0 667.3L1020.0 667.6L1022.0 665.9L1024.0 662.4L1026.0 657.6L1028.0 655.3L1030.0 653.0L1032.0 650.8L1034.0 648.7L1036.0 646.9L1038.0 645.4L1040.0 644.6L1042.0 644.9L1044.0 644.2L1046.0 642.6L1048.0 641.5L1050.0 640.7L1052.0 639.9L1054.0 639.5L1056.0 639.5L1058.0 639.8L1060.0 640.3L1062.0 640.9L1064.0 641.7L1066.0 642.9L1068.0 644.6L1070.0 646.6L1072.0 648.6L1074.0 650.3L1076.0 651.5L1078.0 652.3L1080.0 652.8L1082.0 652.7L1084.0 651.5L1086.0 649.1L1088.0 645.9L1090.0 642.3L1092.0 638.8L1094.0 635.4L1096.0 634.1L1098.0 634.1L1100.0 634.3L1102.0 634.7L1104.0 636.2L1106.0 638.3L1108.0 640.9L1110.0 644.1L1112.0 647.5L1114.0 649.7L1116.0 653.0L1118.0 656.4L1120.0 659.0L1122.0 660.2L1124.0 660.3L1126.0 659.3L1128.0 656.6L1130.0 651.2L1132.0 643.6L1134.0 635.6L1136.0 628.8L1138.0 623.7L1140.0 620.5L1142.0 618.7L1144.0 616.4L1146.0 616.8L1148.0 620.4L1150.0 623.8L1152.0 626.1L1154.0 628.0L1156.0 629.2L1158.0 629.4L1160.0 630.1L1162.0 631.0L1164.0 629.7L1166.0 626.7L1168.0 623.4L1170.0 620.6L1172.0 617.8L1174.0 614.6L1176.0 611.7L1178.0 609.8L1180.0 608.6L1182.0 607.6L1184.0 608.0L1186.0 609.7L1188.0 612.4L1190.0 616.1L1192.0 619.8L1194.0 622.7L1196.0 624.7L1198.0 627.1L1200.0 630.2L1202.0 633.9L1204.0 637.1L1206.0 640.2L1208.0 643.3L1210.0 646.4L1212.0 648.7L1214.0 649.9L1216.0 650.1" stroke="#1f8f7e" stroke-width="1.4" fill="none" stroke-linejoin="round"/></svg>
<svg class="i" style="left:0;top:0" width="1575" height="907" viewBox="0 0 1575 907"><g fill="none" stroke="#d6d6d6" stroke-width="1.6" stroke-linecap="round" stroke-linejoin="round"><circle cx="72.1" cy="13.1" r="6.1"/><path d="M76.6 17.8L81.9 23.3"/></g><g fill="none" stroke="#d6d6d6" stroke-width="1.35" stroke-linecap="round" stroke-linejoin="round"><circle cx="203.2" cy="15.8" r="11.6"/><path d="M197.8 15.8H208.6M203.2 10.4V21.2"/><path d="M537 12.6L541.5 17L546 12.6"/><path d="M734.4 12.7L739 17.2L743.6 12.7"/><path d="M1562.4 11.9L1567 16.6L1571.6 11.9"/><path d="M588.4 2.2V6.2M588.4 23V27.5M585.3 6.2H591.6V23H585.3ZM598.8 6.2V9.8M598.8 19.2V24M596 9.8H601.7V19.2H596Z"/><path d="M643.8 12.6L651 5.4L655.7 9.8L665.2 3.6"/><path d="M644.2 25.8V21.3H651.2V17.6H658.4V13.3H665.5V25.8ZM651.2 21.3V25.8M658.4 17.6V25.8"/><rect x="769.6" y="5.3" width="8.2" height="8.2" rx="2"/><rect x="769.6" y="16.7" width="8.2" height="8.2" rx="2"/><rect x="781.6" y="5.3" width="8.2" height="8.2" rx="2"/><rect x="781.6" y="16.7" width="8.2" height="8.2" rx="2"/><path d="M850 16.5A10.2 10.2 0 1 0 841.5 25.2"/><path d="M839.9 9.8V16H836"/><path d="M828.3 8.2A6.5 6.5 0 0 1 833 3.6M846.9 3.6A6.5 6.5 0 0 1 851.6 8.2"/><path d="M842.8 22.8H853.2M848 17.5V28.2"/><path d="M953.6 8.7V22.9L944.2 15.8ZM963.2 8.7V22.9L953.8 15.8Z"/><path d="M1088.8 9L1084.2 13.8L1088.8 18.4M1084.4 13.8H1094.5C1098.5 13.8 1100.5 16.8 1100.5 21.8"/><rect x="1430.9" y="3.8" width="23.2" height="20.6" rx="3.4" stroke-width="1.6"/></g><g fill="none" stroke="#4d4d4d" stroke-width="1.35" stroke-linecap="round" stroke-linejoin="round"><path d="M1144.6 9L1149.2 13.8L1144.6 18.4M1149 13.8H1139.2C1135.2 13.8 1133.3 16.8 1133.3 21.8"/></g><circle cx="77" cy="110" r="12" fill="#f7931a"/><g transform="rotate(14 77 110)"><text x="77" y="115.2" font-family="Liberation Sans,sans-serif" font-size="14.5" font-weight="700" fill="#fff" text-anchor="middle">B</text><path d="M74.6 102.6V105.4M78.2 102.6V105.4M74.6 114.9V117.6M78.2 114.9V117.6" stroke="#fff" stroke-width="1.5"/></g><path d="M565.8 102.3H580.9L576.4 109.5L580.9 116.8H565.8Z" fill="#f7525f"/><circle cx="617.7" cy="110.3" r="11.4" fill="#133630"/><circle cx="617.7" cy="110.3" r="5.2" fill="#22ab94"/><path d="M75.4 232.4L80.5 227.3L85.6 232.4" fill="none" stroke="#e8e8e8" stroke-width="2" stroke-linecap="round" stroke-linejoin="round"/><rect x="1148.2" y="68.0" width="2.4" height="2.4" fill="#4a4a4a"/><rect x="1148.2" y="74.3" width="2.4" height="2.4" fill="#4a4a4a"/><rect x="1148.2" y="80.6" width="2.4" height="2.4" fill="#4a4a4a"/><rect x="1156.3" y="68.0" width="2.4" height="2.4" fill="#4a4a4a"/><rect x="1156.3" y="74.3" width="2.4" height="2.4" fill="#4a4a4a"/><rect x="1156.3" y="80.6" width="2.4" height="2.4" fill="#4a4a4a"/><g fill="none" stroke="#d6d6d6" stroke-width="1.35" stroke-linecap="round"><circle cx="1182.9" cy="86.0" r="2.6" /><circle cx="1204.8" cy="63.8" r="2.6" /><path d="M1184.7 84.1L1203.0 65.7"/><path d="M1230 75.8H1241.2M1246.6 75.8H1257.8"/><circle cx="1243.9" cy="75.8" r="2.7" /><path d="M1279.5 62.9H1306.5M1279.5 70.7H1303.7M1279.5 78.3H1306.5M1282 86H1306.5"/><circle cx="1306.4" cy="70.7" r="2.7" /><circle cx="1279.2" cy="86.0" r="2.7" /><circle cx="1349.0" cy="62.9" r="2.7" /><circle cx="1330.8" cy="69.2" r="2.7" /><circle cx="1330.8" cy="78.7" r="2.7" /><path d="M1333.4 68.3L1346.4 63.8M1330.8 71.9V76M1333.5 78.7H1358.5M1331 83.6H1358.5M1331 88.9H1358.5"/><circle cx="1379.3" cy="82.3" r="2.6" /><circle cx="1388.5" cy="73.3" r="2.6" /><circle cx="1397.3" cy="82.3" r="2.6" /><circle cx="1406.3" cy="73.3" r="2.6" /><path d="M1381.2 80.5L1386.6 75.1M1390.3 75.2L1395.5 80.4M1399.1 80.5L1404.5 75.1"/><circle cx="1428.2" cy="82.3" r="2.6" /><circle cx="1437.3" cy="73.3" r="2.6" /><circle cx="1446.5" cy="82.3" r="2.6" /><circle cx="1455.5" cy="73.3" r="2.6" /><path d="M1430.0 80.5L1435.5 75.1M1439.2 75.1L1444.6 80.5M1448.3 80.5L1453.7 75.1"/><circle cx="1479.6" cy="65.6" r="2.7" /><circle cx="1479.6" cy="78.4" r="2.7" /><circle cx="1479.6" cy="86.0" r="2.7" /><circle cx="1503.0" cy="78.4" r="2.7" /><path d="M1482.3 65.6H1505M1482.3 78.4H1500.3M1482.3 86H1505"/><path d="M1485.5 75.3L1502.7 67.7" stroke-dasharray="1.3 3"/><circle cx="1528.6" cy="65.6" r="2.7" /><circle cx="1528.6" cy="73.3" r="2.7" /><circle cx="1528.6" cy="86.0" r="2.7" /><circle cx="1552.0" cy="73.3" r="2.7" /><path d="M1531.3 65.6H1553.8M1531.3 73.3H1549.3M1531.3 86H1553.8"/><path d="M1534.5 75.8L1551.6 83.2" stroke-dasharray="1.3 3"/></g><g font-family="Liberation Sans,sans-serif" font-size="10" font-weight="700" fill="#d6d6d6" text-anchor="middle"><text x="1387.8" y="66.2">1</text><text x="1407.5" y="66.2">5</text><text x="1438" y="66.2">A</text><text x="1456" y="66.2">C</text></g><g fill="none" stroke="#d6d6d6" stroke-width="1.4" stroke-linecap="round" stroke-linejoin="round"><path d="M1.6 77.5H10.6M20.6 77.5H30.2M15.6 63.6V72.6M15.6 82.6V91.9"/><circle cx="3.8" cy="137.0" r="2.7" /><circle cx="26.0" cy="115.0" r="2.7" /><path d="M5.7 135.1L24.1 116.9"/><path d="M1.8 163.9H29M1.8 171.3H25.5M1.8 179.3H29M3.9 187.2H29"/><circle cx="28.3" cy="171.3" r="2.8" /><circle cx="1.0" cy="187.2" r="2.8" /><circle cx="7.9" cy="214.0" r="2.7" /><circle cx="23.3" cy="215.0" r="2.7" /><circle cx="13.0" cy="223.4" r="2.7" /><circle cx="3.8" cy="236.3" r="2.7" /><circle cx="27.0" cy="232.0" r="2.7" /><path d="M4.3 233.6L7.4 216.7M9.2 216.4L11.7 221.0M15.1 221.7L21.2 216.7M23.9 217.6L26.4 229.4M24.7 230.6L15.3 224.8M11.4 225.6L5.4 234.1"/><circle cx="2.7" cy="265.4" r="2.7" /><circle cx="2.7" cy="278.3" r="2.7" /><circle cx="2.7" cy="285.8" r="2.7" /><circle cx="26.0" cy="278.3" r="2.7" /><path d="M5.4 265.4H28.3M5.4 278.3H23.3M5.4 285.8H28.3"/><path d="M8.5 275.2L25 268" stroke-dasharray="1.3 3"/><path d="M0.5 334.6L7.3 324.5C9 321.5 13.5 320.2 16.6 322.4C20.2 325 20.6 330 17 332.8C15.2 334.2 13.5 334.6 11.5 334.6Z"/><path d="M20.5 314.2C17.5 315 17 318.2 19 320.2C21 322.2 23.2 322.6 25 321L32 314.2"/><path d="M5.7 366.8V363.9H25.4V366.8M15.5 363.9V385.2M11.8 385.2H19.2"/><circle cx="15.2" cy="423.2" r="13.4"/><path d="M10.2 426.2Q15.2 432.6 20.2 426.2"/><circle cx="11.3" cy="420.3" r="1.2" fill="#d6d6d6" stroke="none"/><circle cx="19.2" cy="420.3" r="1.2" fill="#d6d6d6" stroke="none"/><g transform="translate(15.15 489.65) rotate(-45)"><rect x="-16.3" y="-4.6" width="32.6" height="9.2" rx="1.2"/><path d="M-11 -4.6V-1.2M-5.2 -4.6V-0.3M0.7 -4.6V-1.6M6.5 -4.6V-0.3M12.4 -4.6V-1.6"/></g><circle cx="13.1" cy="537.2" r="9.8"/><path d="M8.6 537.2H17.6M13.1 532.7V541.7M20.2 544.3L24.9 549.2"/><path d="M5.4 617V603.2A9.6 9.6 0 0 1 24.6 603.2V617H18.3V603.5A3.3 3.3 0 0 0 11.7 603.5V617ZM5.4 611.7H11.7M18.3 611.7H24.6"/><path d="M1.2 662.3V656.5L15 642.6C16.2 641.5 17.8 641.5 18.9 642.6L20.8 644.6C21.9 645.7 21.9 647.3 20.8 648.4L7 662.3ZM3 655L8.3 660.5M13.6 644L19.4 649.7"/><rect x="16.6" y="661.4" width="11" height="7.4" rx="1.2" stroke-width="1.5"/><path d="M20 661.2V658A2.45 2.45 0 0 1 24.9 658" stroke-width="1.5"/><circle cx="22.1" cy="665.1" r="0.8" fill="#d6d6d6" stroke="none"/><rect x="5.2" y="702.2" width="19.5" height="14" rx="2"/><path d="M10.4 702V697.5A4.5 4.5 0 0 1 19.4 697.5"/><path d="M14.9 707.3V711.2" stroke-width="2"/><path d="M1.7 748.4C6 742.5 10 740 13.9 740C17.8 740 21.8 742.5 25.8 748.4C21.8 754.2 17.8 756.7 13.9 756.7C10 756.7 6 754.2 1.7 748.4Z"/><circle cx="13.9" cy="748.5" r="4.4"/><path d="M15.2 767.2L18.2 762.8C19.2 761.3 21.3 761 22.6 762.2C23.9 763.5 23.6 765.6 22 766.5C21.2 767 20.3 767.2 19.4 767.2ZM25.6 758.8C24.6 759.3 24.4 760.6 25.2 761.4C25.9 762.1 26.8 762.2 27.5 761.6L29.2 759.8" stroke-width="1.2"/><path d="M3.2 810.4H26.8M10.4 810.2V808.4A2 2 0 0 1 12.4 806.4H17.7A2 2 0 0 1 19.7 808.4V810.2M6 810.6L8.4 829.4A1.8 1.8 0 0 0 10.2 831H19.9A1.8 1.8 0 0 0 21.7 829.4L24.2 810.6"/></g><g fill="none" stroke="#d6d6d6" stroke-width="1.35" stroke-linecap="round" stroke-linejoin="round"><path d="M409 768.5V763.2A2.7 2.7 0 0 1 411.7 760.5H428.1A2.7 2.7 0 0 1 430.8 763.2V777.1A2.7 2.7 0 0 1 428.1 779.8H420.2M409 765.5H430.8M415.4 757.1V762.1M424.5 757.1V762.1M407.2 775.8H416.8M412.5 771.3L417 775.8L412.5 780.3"/><path d="M271.4 822.4L276.2 827L281 822.4"/></g><defs><linearGradient id="wg" x1="0" y1="0" x2="1" y2="1"><stop offset="0" stop-color="#35bdf3"/><stop offset="1" stop-color="#0669c8"/></linearGradient></defs><path d="M869.7 866.3H883.8V880.4H869.7ZM885.3 866.3H899.4V880.4H885.3ZM869.7 881.9H883.8V896H869.7ZM885.3 881.9H899.4V896H885.3Z" fill="url(#wg)"/><g transform="translate(943.0 880.3)"><path d="M-13.34 -7.90A15.5 15.5 0 0 1 13.51 -7.60L0.00 -7.60L0 0L-6.58 3.80Z" fill="#e33b2e"/><path d="M-13.34 -7.90A15.5 15.5 0 0 1 13.51 -7.60L0.00 -7.60L0 0L-6.58 3.80Z" fill="#fbc116" transform="rotate(120)"/><path d="M-13.34 -7.90A15.5 15.5 0 0 1 13.51 -7.60L0.00 -7.60L0 0L-6.58 3.80Z" fill="#2da14c" transform="rotate(240)"/><circle r="7.6" fill="#fff"/><circle r="6" fill="#3f7fe8"/></g><rect x="939.4" y="902" width="8.2" height="3.6" rx="1.8" fill="#6f7f86"/><rect x="985.5" y="865.8" width="21.5" height="21.5" fill="#eef3f6"/><path d="M987.2 867.5H1003.5M987.2 867.5V884" fill="none" stroke="#d4451d" stroke-width="3" stroke-dasharray="3.4 2.3"/><path d="M1001.5 871V883.5L1004.6 886.6V871ZM989.5 882.5H1003L1006 885.6H992Z" fill="#9aa3a8"/><circle cx="1011.4" cy="881.2" r="3" fill="none" stroke="#2f9be0" stroke-width="1.9"/><circle cx="1000.9" cy="892.1" r="3" fill="none" stroke="#2f9be0" stroke-width="1.9"/><path d="M1004 885L1008.8 882.6M1003.5 885.5L1001.8 889.4" stroke="#6d7a82" stroke-width="2" fill="none"/><path d="M1554.9 886L1561.7 878.6L1568.5 886" fill="none" stroke="#1f1f1f" stroke-width="1.7" stroke-linecap="round" stroke-linejoin="round"/><path d="M69.6 672.8H85.5V691.5H77.2V680H69.6Z" fill="#d6d6d6"/><circle cx="90.3" cy="675.7" r="2.9" fill="#d6d6d6"/><path d="M97.2 672.8H108.3L101.2 691.5H90.6Z" fill="#d6d6d6"/></svg>
<span class="t" style="top:5.0px;font-size:22.5px;color:#ffffff;left:14.7px;width:60px;margin-left:-30px;text-align:center;-webkit-text-stroke:.7px;">S</span>
<span class="t" style="top:7.0px;font-size:17.5px;color:#dbdbdb;font-weight:700;-webkit-text-stroke:0;left:91.0px;transform:scaleX(0.9257);">BTCUSD.</span>
<span class="t" style="top:9.0px;font-size:17.5px;color:#dbdbdb;left:249.0px;transform:scaleX(0.9074);">15<span style="position:relative;top:-.07em">분</span></span>
<span class="t" style="top:9.0px;font-size:17.5px;color:#dbdbdb;left:300.7px;transform:scaleX(0.9154);">30<span style="position:relative;top:-.07em">분</span></span>
<span class="t" style="top:9.0px;font-size:17.5px;color:#dbdbdb;left:352.5px;transform:scaleX(0.8987);">1<span style="position:relative;top:-.07em">시간</span></span>
<span class="t" style="top:9.0px;font-size:17.5px;color:#dbdbdb;left:410.0px;transform:scaleX(0.9183);">4<span style="position:relative;top:-.07em">시간</span></span>
<span class="t" style="top:9.0px;font-size:17.5px;color:#dbdbdb;left:470.0px;transform:scaleX(0.8333);"><span style="position:relative;top:-.07em">날</span></span>
<span class="t" style="top:9.0px;font-size:17.5px;color:#dbdbdb;left:502.0px;transform:scaleX(0.8333);"><span style="position:relative;top:-.07em">주</span></span>
<span class="t" style="top:9.0px;font-size:17.5px;color:#dbdbdb;left:679.0px;transform:scaleX(0.8694);"><span style="position:relative;top:-.07em">지표</span></span>
<span class="t" style="top:9.0px;font-size:17.5px;color:#dbdbdb;left:866.0px;transform:scaleX(0.8944);"><span style="position:relative;top:-.07em">얼러트</span></span>
<span class="t" style="top:9.0px;font-size:17.5px;color:#dbdbdb;left:977.9px;transform:scaleX(0.8903);"><span style="position:relative;top:-.07em">리플레이</span></span>
<span class="t" style="top:9.0px;font-size:17.5px;color:#dbdbdb;left:1476.7px;transform:scaleX(0.9069);"><span style="position:relative;top:-.07em">이름없음</span></span>
<span class="t" style="top:58.0px;font-size:16.25px;color:#e4e4e4;left:65.3px;transform:scaleX(0.8755);-webkit-text-stroke:.5px;">MACD</span>
<span class="t" style="top:58.0px;font-size:16.25px;color:#8c8c8c;left:113.8px;transform:scaleX(0.9985);">12 26 close</span>
<span class="t" style="top:58.0px;font-size:16.25px;color:#20a892;left:208.3px;transform:scaleX(1.0091);">7.5</span>
<span class="t" style="top:58.0px;font-size:16.25px;color:#2f6fed;left:240.0px;transform:scaleX(1.0019);">16.4</span>
<span class="t" style="top:58.0px;font-size:16.25px;color:#f57c1f;left:280.1px;transform:scaleX(1.0357);">8.9</span>
<span class="t" style="top:101.0px;font-size:20px;color:#dbdbdb;left:94.4px;transform:scaleX(1.0322);">BTC Perpetual Futures Contract</span>
<span class="t" style="top:101.0px;font-size:20px;color:#dbdbdb;left:397.5px;width:60px;margin-left:-30px;text-align:center;">·</span>
<span class="t" style="top:101.0px;font-size:20px;color:#dbdbdb;left:406.5px;transform:scaleX(0.8802);">1<span style="position:relative;top:-.07em">시간</span></span>
<span class="t" style="top:101.0px;font-size:20px;color:#dbdbdb;left:462.0px;width:60px;margin-left:-30px;text-align:center;">·</span>
<span class="t" style="top:101.0px;font-size:20px;color:#dbdbdb;left:470.8px;transform:scaleX(0.8796);">BINANCE</span>
<span class="t" style="top:103.0px;font-size:16.25px;color:#dbdbdb;left:651.0px;transform:scaleX(0.8750);"><span style="position:relative;top:-.07em">시</span></span>
<span class="t" style="top:103.0px;font-size:16.25px;color:#20a892;left:667.6px;transform:scaleX(1.0243);">93,086.0</span>
<span class="t" style="top:103.0px;font-size:16.25px;color:#dbdbdb;left:740.8px;transform:scaleX(0.9000);"><span style="position:relative;top:-.07em">고</span></span>
<span class="t" style="top:103.0px;font-size:16.25px;color:#20a892;left:757.9px;transform:scaleX(1.0243);">93,250.0</span>
<span class="t" style="top:103.0px;font-size:16.25px;color:#dbdbdb;left:831.4px;transform:scaleX(0.9062);"><span style="position:relative;top:-.07em">저</span></span>
<span class="t" style="top:103.0px;font-size:16.25px;color:#20a892;left:848.6px;transform:scaleX(1.0227);">93,000.0</span>
<span class="t" style="top:103.0px;font-size:16.25px;color:#dbdbdb;left:922.0px;transform:scaleX(0.8875);"><span style="position:relative;top:-.07em">종</span></span>
<span class="t" style="top:103.0px;font-size:16.25px;color:#20a892;left:938.9px;transform:scaleX(1.0116);">93,239.9</span>
<span class="t" style="top:103.0px;font-size:16.25px;color:#20a892;left:1012.4px;transform:scaleX(0.9755);">+153.8 (+0.17%)</span>
<span class="t" style="top:120.0px;font-size:17px;color:#1c3d7c;left:130.2px;transform:scaleX(0.9576);z-index:1;"><span style="position:relative;top:-.07em">하락추세선</span></span>
<span class="t" style="top:189.0px;font-size:16.25px;color:#dbdbdb;left:65.5px;transform:scaleX(0.9955);background:rgba(15,15,15,.62);box-shadow:0 0 0 2px rgba(15,15,15,.62);"><span style="position:relative;top:-.07em">볼륨</span> · <span style="position:relative;top:-.07em">틱스</span></span>
<span class="t" style="top:189.0px;font-size:16.25px;color:#20a892;left:154.0px;transform:scaleX(1.0540);background:rgba(15,15,15,.62);box-shadow:0 0 0 2px rgba(15,15,15,.62);">84.37K</span>
<span class="t" style="top:603.0px;font-size:16.25px;color:#e4e4e4;left:65.8px;transform:scaleX(0.8009);-webkit-text-stroke:.5px;">RSI</span>
<span class="t" style="top:603.0px;font-size:16.25px;color:#8c8c8c;left:94.4px;transform:scaleX(0.9797);">14 close</span>
<span class="t" style="top:603.0px;font-size:16.25px;color:#7e57c2;left:165.6px;transform:scaleX(0.9687);">57.65</span>
<span class="t" style="top:603.0px;font-size:16.25px;color:#1a8a77;left:214.5px;transform:scaleX(0.9884);">47.33</span>
<span class="t" style="top:670.0px;font-size:26px;color:#d6d6d6;font-weight:700;-webkit-text-stroke:0;left:118.5px;transform:scaleX(1.0237);">TradingView</span>
<span class="t" style="top:721.0px;font-size:15px;color:#c4c4c4;left:112.8px;transform:scaleX(0.9528);">10</span>
<span class="t" style="top:721.0px;font-size:15px;color:#c4c4c4;left:184.2px;transform:scaleX(0.9528);">13</span>
<span class="t" style="top:721.0px;font-size:15px;color:#c4c4c4;left:255.7px;transform:scaleX(0.9528);">16</span>
<span class="t" style="top:721.0px;font-size:15px;color:#c4c4c4;left:327.1px;transform:scaleX(0.9528);">19</span>
<span class="t" style="top:721.0px;font-size:15px;color:#c4c4c4;left:398.6px;transform:scaleX(0.9528);">22</span>
<span class="t" style="top:721.0px;font-size:15px;color:#c4c4c4;left:470.1px;transform:scaleX(0.9528);">25</span>
<span class="t" style="top:721.0px;font-size:15px;color:#c4c4c4;left:541.4px;transform:scaleX(0.9528);">28</span>
<span class="t" style="top:721.0px;font-size:15px;color:#c4c4c4;left:712.0px;transform:scaleX(0.9588);">4</span>
<span class="t" style="top:721.0px;font-size:15px;color:#c4c4c4;left:783.5px;transform:scaleX(0.9588);">7</span>
<span class="t" style="top:721.0px;font-size:15px;color:#c4c4c4;left:851.0px;transform:scaleX(0.9528);">10</span>
<span class="t" style="top:721.0px;font-size:15px;color:#c4c4c4;left:922.3px;transform:scaleX(0.9528);">13</span>
<span class="t" style="top:721.0px;font-size:15px;color:#c4c4c4;left:993.6px;transform:scaleX(0.9528);">16</span>
<span class="t" style="top:721.0px;font-size:15px;color:#c4c4c4;left:1065.0px;transform:scaleX(0.9528);">19</span>
<span class="t" style="top:721.0px;font-size:15px;color:#c4c4c4;left:1136.5px;transform:scaleX(0.9528);">22</span>
<span class="t" style="top:721.0px;font-size:15px;color:#c4c4c4;left:1207.8px;transform:scaleX(0.9528);">25</span>
<span class="t" style="top:721.0px;font-size:15px;color:#c4c4c4;left:1279.0px;transform:scaleX(0.9528);">28</span>
<span class="t" style="top:721.0px;font-size:15px;color:#c4c4c4;left:1427.0px;transform:scaleX(0.9588);">4</span>
<span class="t" style="top:721.0px;font-size:15px;color:#c4c4c4;left:1498.3px;transform:scaleX(0.9588);">7</span>
<span class="t" style="top:721.0px;font-size:15px;color:#c4c4c4;left:1567.6px;transform:scaleX(0.9528);">10</span>
<span class="t" style="top:721.0px;font-size:15px;color:#e0e0e0;font-weight:700;-webkit-text-stroke:0;left:633.5px;transform:scaleX(0.9853);">4<span style="position:relative;top:-.07em">월</span></span>
<span class="t" style="top:721.0px;font-size:15px;color:#e0e0e0;font-weight:700;-webkit-text-stroke:0;left:1347.5px;transform:scaleX(1.0067);">5<span style="position:relative;top:-.07em">월</span></span>
<span class="t" style="top:762.0px;font-size:17.5px;color:#e0e0e0;left:73.0px;transform:scaleX(0.8804);-webkit-text-stroke:.55px;">1D</span>
<span class="t" style="top:762.0px;font-size:17.5px;color:#e0e0e0;left:108.9px;transform:scaleX(0.9073);-webkit-text-stroke:.55px;">5D</span>
<span class="t" style="top:762.0px;font-size:17.5px;color:#e0e0e0;left:145.4px;transform:scaleX(0.9008);-webkit-text-stroke:.55px;">1M</span>
<span class="t" style="top:762.0px;font-size:17.5px;color:#e0e0e0;left:183.5px;transform:scaleX(0.9008);-webkit-text-stroke:.55px;">3M</span>
<span class="t" style="top:762.0px;font-size:17.5px;color:#e0e0e0;left:221.3px;transform:scaleX(0.9254);-webkit-text-stroke:.55px;">6M</span>
<span class="t" style="top:762.0px;font-size:17.5px;color:#e0e0e0;left:259.7px;transform:scaleX(0.8943);-webkit-text-stroke:.55px;">YTD</span>
<span class="t" style="top:762.0px;font-size:17.5px;color:#e0e0e0;left:307.3px;transform:scaleX(0.8876);-webkit-text-stroke:.55px;">1Y</span>
<span class="t" style="top:762.0px;font-size:17.5px;color:#dbdbdb;left:343.5px;transform:scaleX(0.9083);"><span style="position:relative;top:-.07em">전체</span></span>
<span class="t" style="top:817.0px;font-size:17.5px;color:#dbdbdb;left:75.2px;transform:scaleX(0.9339);"><span style="position:relative;top:-.07em">암호화폐</span> <span style="position:relative;top:-.07em">페어</span> <span style="position:relative;top:-.07em">스크리너</span></span>
<span class="t" style="top:817.0px;font-size:17.5px;color:#dbdbdb;left:318.4px;transform:scaleX(0.9449);-webkit-text-stroke:.45px;">Pine</span>
<span class="t" style="top:817.0px;font-size:17.5px;color:#dbdbdb;left:357.0px;transform:scaleX(0.9315);"><span style="position:relative;top:-.07em">에디터</span></span>
<span class="t" style="top:817.0px;font-size:17.5px;color:#dbdbdb;left:450.5px;transform:scaleX(0.9200);"><span style="position:relative;top:-.07em">전략테스터</span></span>
<span class="t" style="top:817.0px;font-size:17.5px;color:#dbdbdb;left:575.5px;transform:scaleX(0.9370);"><span style="position:relative;top:-.07em">리플레이</span> <span style="position:relative;top:-.07em">트레이딩</span> <span style="position:relative;top:-.07em">패널</span></span>
<span class="t" style="top:817.0px;font-size:17.5px;color:#dbdbdb;left:796.0px;transform:scaleX(0.9259);"><span style="position:relative;top:-.07em">트레이딩패널</span></span>
<span class="t" style="top:138.0px;font-size:15px;color:#ee3a49;font-weight:700;-webkit-text-stroke:0;left:78.8px;transform:scaleX(1.1252);z-index:3;">93,239.8</span>
<span class="t" style="top:156.0px;font-size:14px;color:#e03545;left:111.4px;width:60px;margin-left:-30px;text-align:center;z-index:3;"><span style="position:relative;top:-.07em">셀</span></span>
<span class="t" style="top:147.0px;font-size:12px;color:#dbdbdb;font-weight:700;-webkit-text-stroke:0;left:168.9px;transform:scaleX(1.0487);z-index:3;">0.1</span>
<span class="t" style="top:138.0px;font-size:15px;color:#2f62f5;font-weight:700;-webkit-text-stroke:0;left:212.7px;transform:scaleX(1.1166);z-index:3;">93,239.9</span>
<span class="t" style="top:156.0px;font-size:14px;color:#2a58dc;left:244.4px;width:60px;margin-left:-30px;text-align:center;z-index:3;"><span style="position:relative;top:-.07em">바이</span></span>
</div>
</body></html>
